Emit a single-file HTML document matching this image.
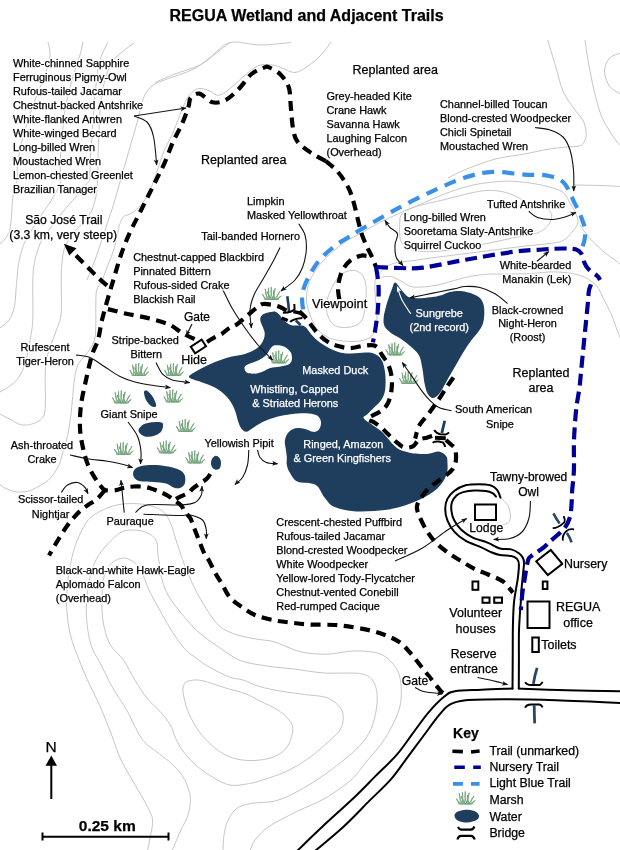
<!DOCTYPE html><html><head><meta charset="utf-8"><style>
html,body{margin:0;padding:0;background:#fff;width:620px;height:850px;overflow:hidden}
svg{display:block;will-change:transform}
text{font-family:"Liberation Sans",sans-serif;}
.h{paint-order:stroke;stroke:#fff;stroke-width:3px;stroke-linejoin:round}
</style></head><body>
<svg width="620" height="850" viewBox="0 0 620 850">
<defs>
<marker id="ah" viewBox="0 0 10 10" refX="9" refY="5" markerWidth="6" markerHeight="6" orient="auto-start-reverse" markerUnits="userSpaceOnUse"><path d="M0,1 L10,5 L0,9 L2.5,5Z" fill="#111"/></marker>
<marker id="ahw" viewBox="0 0 10 10" refX="9" refY="5" markerWidth="6" markerHeight="6" orient="auto-start-reverse" markerUnits="userSpaceOnUse"><path d="M0,1 L10,5 L0,9 L2.5,5Z" fill="#fff"/></marker>
<g id="marsh"><path d="M2.6,12.5 Q2.5,9.2 0.4,7.0 Q0.7,10.3 5.3,12.5 Z M4.2,12.5 Q4.8,6.9 3.2,1.8 Q2.7,7.4 6.8,12.5 Z M5.9,12.5 Q7.4,6.6 6.5,0.8 Q5.2,6.7 8.7,12.5 Z M7.5,12.5 Q7.4,8.1 5.2,4.5 Q5.4,8.9 10.2,12.5 Z M8.2,12.5 Q9.9,6.2 9.3,0.0 Q7.8,6.3 10.9,12.5 Z M9.8,12.5 Q12.7,7.1 13.2,1.3 Q10.5,6.7 12.5,12.5 Z M11.0,12.5 Q12.4,7.9 11.5,3.5 Q10.2,8.1 13.7,12.5 Z M12.2,12.5 Q16.1,8.9 18.0,4.3 Q14.2,7.9 14.8,12.5 Z M13.7,12.5 Q17.2,11.6 19.3,9.0 Q15.9,9.9 16.4,12.5 Z" fill="#cfe6cf" stroke="#72a27b" stroke-width="0.85" stroke-linejoin="round"/></g>
</defs>
<rect width="620" height="850" fill="#fff"/>
<g fill="none" stroke="#c6c6c6" stroke-width="1">
<path d="M48.0,42.0 C48.3,44.3 50.5,50.5 50.0,56.0 C49.5,61.5 47.5,67.7 45.0,75.0 C42.5,82.3 38.3,90.8 35.0,100.0 C31.7,109.2 27.8,120.0 25.0,130.0 C22.2,140.0 19.4,151.4 18.0,160.0 C16.6,168.6 17.5,176.7 16.9,181.8 C16.3,186.9 14.9,187.3 14.2,190.6 C13.4,193.8 12.8,197.2 12.4,201.3 C12.0,205.5 11.9,210.8 11.5,215.5 C11.1,220.2 10.8,225.8 9.8,229.7 C8.8,233.5 6.9,236.2 5.3,238.6 C3.7,241.0 0.9,243.1 0.0,244.0"/>
<path d="M83.0,42.0 C82.5,44.2 81.8,48.7 80.0,55.0 C78.2,61.3 74.5,70.8 72.0,80.0 C69.5,89.2 66.7,100.0 65.0,110.0 C63.3,120.0 62.8,130.8 62.0,140.0 C61.2,149.2 60.1,158.3 60.0,165.0 C59.9,171.7 61.7,175.7 61.2,180.0 C60.7,184.3 58.7,186.8 56.8,190.6 C54.9,194.4 52.4,198.9 49.7,203.1 C47.0,207.2 44.6,209.6 40.8,215.5 C36.9,221.4 29.7,233.0 26.6,238.6 C23.5,244.2 23.5,245.1 22.2,249.2 C20.9,253.3 19.5,258.4 18.6,263.4 C17.7,268.4 17.3,275.0 16.9,279.4 C16.5,283.8 16.4,285.3 16.0,290.0 C15.6,294.7 15.4,302.7 14.2,307.7 C13.0,312.7 11.3,316.8 8.9,320.2 C6.5,323.6 1.5,326.7 0.0,328.0"/>
<path d="M108.0,42.0 C106.7,45.0 102.0,52.8 100.0,60.0 C98.0,67.2 97.2,75.0 96.0,85.0 C94.8,95.0 93.8,109.2 93.0,120.0 C92.2,130.8 91.5,141.7 91.0,150.0 C90.5,158.3 90.2,165.0 90.0,170.0 C89.8,175.0 90.4,177.4 89.6,180.0 C88.8,182.6 87.1,182.9 85.2,185.3 C83.3,187.7 81.4,190.3 78.1,194.2 C74.8,198.0 69.8,203.4 65.6,208.4 C61.4,213.4 57.0,219.4 53.2,224.4 C49.4,229.4 45.1,234.5 42.6,238.6 C40.1,242.7 39.4,245.4 38.1,249.2 C36.8,253.0 35.5,256.6 34.6,261.6 C33.7,266.6 33.1,269.9 32.8,279.4 C32.5,288.9 33.2,308.3 32.8,318.4 C32.4,328.4 31.5,332.0 30.2,339.7 C28.9,347.4 26.9,358.0 24.8,364.5 C22.7,371.0 20.3,375.0 17.7,378.7 C15.0,382.4 11.8,384.5 8.9,386.7 C6.0,388.9 1.5,391.1 0.0,392.0"/>
<path d="M134.1,42.9 C132.2,44.4 126.1,48.6 122.4,51.8 C118.7,55.0 114.9,57.3 112.0,62.0 C109.1,66.7 106.8,73.7 105.0,80.0 C103.2,86.3 102.0,91.7 101.0,100.0 C100.0,108.3 99.5,120.0 99.0,130.0 C98.5,140.0 98.3,150.0 98.0,160.0 C97.7,170.0 98.0,181.7 97.0,190.0 C96.0,198.3 94.0,205.0 92.0,210.0 C90.0,215.0 88.3,215.8 85.0,220.0 C81.7,224.2 75.4,230.4 72.0,235.0 C68.6,239.6 66.5,243.0 64.8,247.4 C63.1,251.8 62.7,256.3 62.1,261.6 C61.5,266.9 61.4,270.8 61.2,279.4 C61.1,288.0 61.9,304.8 61.2,313.1 C60.5,321.4 58.4,324.0 56.8,329.0 C55.2,334.0 53.1,338.5 51.5,343.2 C49.9,347.9 48.0,352.4 47.0,357.4 C46.0,362.4 45.5,364.8 45.2,373.4 C44.9,382.0 45.9,401.2 45.2,408.9 C44.5,416.6 43.0,417.0 40.8,419.5 C38.6,422.0 35.1,423.1 31.9,424.0 C28.6,424.9 24.9,425.6 21.3,424.8 C17.8,424.1 14.2,421.3 10.6,419.5 C7.0,417.7 1.8,415.1 0.0,414.2"/>
<path d="M291.0,42.5 C285.8,42.9 270.2,45.0 260.0,45.0 C249.8,45.0 238.3,40.4 230.0,42.5 C221.7,44.6 216.2,53.1 210.0,57.6 C203.8,62.1 199.7,66.0 192.9,69.4 C186.1,72.8 175.8,75.8 169.4,78.2 C163.0,80.7 158.6,81.6 154.7,84.1 C150.8,86.5 148.1,89.5 145.9,92.9 C143.7,96.3 143.0,99.8 141.5,104.7 C140.0,109.6 138.8,116.0 137.1,122.4 C135.4,128.8 133.2,136.1 131.2,142.9 C129.2,149.8 127.3,156.6 125.3,163.5 C123.3,170.4 121.4,177.2 119.4,184.1 C117.4,191.0 115.5,198.3 113.5,204.7 C111.5,211.1 109.5,216.5 107.6,222.4 C105.6,228.3 103.8,234.1 101.8,240.0 C99.8,245.9 97.9,252.2 95.9,257.6 C93.9,263.0 91.5,268.7 90.0,272.4 C88.5,276.1 87.5,278.7 87.0,280.0"/>
<path d="M331.0,42.0 C329.3,44.2 324.8,51.0 321.0,55.0 C317.2,59.0 312.3,63.1 308.0,66.0 C303.7,68.9 299.3,72.2 295.0,72.5 C290.7,72.8 285.8,69.2 282.0,68.0 C278.2,66.8 277.0,65.1 272.5,65.0 C268.0,64.9 263.3,62.7 255.0,67.5 C246.7,72.3 230.0,90.1 222.5,94.0 C215.0,97.9 213.9,91.9 210.0,91.0 C206.1,90.1 202.1,87.9 198.8,88.5 C195.5,89.1 192.4,91.7 190.0,94.4 C187.6,97.1 186.1,100.5 184.1,104.7 C182.1,108.9 180.1,114.5 178.2,119.4 C176.2,124.3 174.6,129.2 172.4,134.1 C170.2,139.0 167.0,144.4 165.0,148.8 C163.0,153.2 162.3,155.7 160.6,160.6 C158.9,165.5 156.7,172.8 154.7,178.2 C152.7,183.6 151.0,188.5 148.8,192.9 C146.6,197.3 144.4,201.3 141.5,204.7 C138.6,208.1 134.1,211.5 131.2,213.5 C128.2,215.5 125.8,214.5 123.8,216.5 C121.8,218.5 120.6,221.4 119.4,225.3 C118.2,229.2 117.7,235.1 116.5,240.0 C115.3,244.9 113.8,249.8 112.1,254.7 C110.4,259.6 107.9,265.0 106.2,269.4 C104.5,273.8 103.4,277.8 101.8,281.2 C100.2,284.6 97.7,286.2 96.7,290.0 C95.7,293.8 96.0,298.3 95.8,304.2 C95.6,310.1 96.1,319.3 95.8,325.5 C95.5,331.7 95.8,336.5 94.0,341.5 C92.2,346.5 87.9,351.8 85.2,355.6 C82.5,359.4 79.9,360.6 78.1,364.5 C76.3,368.4 75.4,373.4 74.5,378.7 C73.6,384.0 73.3,390.6 72.7,396.5 C72.1,402.4 71.7,408.3 71.0,414.2 C70.3,420.1 69.0,427.7 68.3,432.0 C67.5,436.3 67.5,436.2 66.5,440.0 C65.5,443.8 63.3,450.7 62.0,455.0 C60.7,459.3 60.7,461.7 58.7,465.6 C56.8,469.5 53.1,475.1 50.3,478.2 C47.5,481.3 45.4,482.4 41.9,484.5 C38.4,486.6 33.6,489.6 29.4,490.8 C25.2,492.0 20.6,492.2 16.8,491.9 C13.0,491.5 9.1,489.9 6.3,488.7 C3.5,487.5 1.1,485.2 0.0,484.5"/>
<path d="M155.0,82.5 C158.3,81.1 167.5,76.9 175.0,74.0 C182.5,71.1 193.3,68.3 200.0,65.0 C206.7,61.7 210.0,57.8 215.0,54.0 C220.0,50.2 227.5,44.4 230.0,42.5"/>
<path d="M147.5,851.0 C147.9,848.8 149.2,843.2 150.0,838.0 C150.8,832.8 153.1,825.4 152.6,820.0 C152.1,814.6 149.7,811.3 146.8,805.5 C143.9,799.7 139.6,793.0 135.2,785.2 C130.8,777.5 124.5,767.2 120.6,759.0 C116.7,750.8 115.3,744.5 111.9,735.8 C108.5,727.1 104.4,716.1 100.3,706.8 C96.2,697.5 91.0,687.9 87.5,680.0 C84.0,672.1 81.8,667.1 79.0,659.7 C76.2,652.3 72.6,643.6 70.6,635.5 C68.6,627.4 67.5,618.6 66.9,611.3 C66.3,604.0 66.5,598.8 66.9,591.9 C67.3,585.0 68.4,576.7 69.4,570.2 C70.4,563.8 71.4,558.9 73.0,553.2 C74.6,547.6 76.4,541.9 79.0,536.3 C81.6,530.7 84.7,523.8 88.7,519.4 C92.7,515.0 98.4,512.1 103.2,509.7 C108.0,507.3 112.5,505.8 117.7,504.8 C123.0,503.8 129.0,503.4 134.7,503.6 C140.3,503.8 146.8,504.6 151.6,506.0 C156.4,507.4 160.5,509.1 163.7,512.1 C166.9,515.1 168.9,519.6 171.0,524.2 C173.1,528.9 174.3,534.9 176.0,540.0 C177.7,545.1 179.4,550.4 181.0,555.0 C182.6,559.6 183.0,561.2 185.6,567.4 C188.2,573.6 191.6,583.0 196.6,592.1 C201.6,601.2 209.9,615.4 215.8,622.3 C221.8,629.1 225.9,630.5 232.3,633.2 C238.7,635.9 247.3,637.3 254.2,638.7 C261.0,640.1 267.9,640.1 273.4,641.5 C278.9,642.9 282.1,645.2 287.1,647.0 C292.1,648.8 296.8,651.2 303.5,652.4 C310.2,653.6 318.9,654.4 327.1,654.2 C335.3,654.0 344.8,651.3 352.9,651.0 C361.0,650.7 369.6,651.3 375.5,652.6 C381.4,653.9 384.6,655.8 388.4,659.0 C392.2,662.2 396.0,667.0 398.1,671.9 C400.2,676.8 401.0,682.2 401.3,688.1 C401.6,694.0 401.3,701.0 399.7,707.4 C398.1,713.8 394.6,720.9 391.6,726.8 C388.6,732.7 386.2,737.0 381.9,742.9 C377.6,748.8 370.6,756.4 365.8,762.3 C361.0,768.2 358.0,773.4 352.9,778.4 C347.8,783.4 340.5,788.2 335.0,792.0 C329.5,795.8 325.8,798.0 320.0,801.0 C314.2,804.0 305.8,807.2 300.0,810.0 C294.2,812.8 290.4,814.6 285.0,817.5 C279.6,820.4 272.5,823.8 267.5,827.5 C262.5,831.2 257.9,836.1 255.0,840.0 C252.1,843.9 250.8,849.2 250.0,851.0"/>
<path d="M172.0,851.0 C173.3,847.8 177.7,837.2 180.0,832.0 C182.3,826.8 184.5,823.5 186.0,820.0 C187.5,816.5 188.2,815.2 188.9,811.3 C189.6,807.4 191.0,802.1 190.3,796.8 C189.6,791.5 187.4,784.7 184.5,779.4 C181.6,774.1 177.2,769.3 172.9,764.9 C168.6,760.5 163.2,757.1 158.4,753.2 C153.6,749.3 147.8,746.0 143.9,741.6 C140.0,737.2 138.1,732.4 135.2,727.1 C132.3,721.8 130.4,716.5 126.5,709.7 C122.6,702.9 116.3,694.2 111.9,686.5 C107.5,678.8 103.5,669.3 100.3,663.2 C97.1,657.1 94.9,654.6 93.0,650.0 C91.1,645.4 89.8,641.5 88.7,635.5 C87.6,629.5 86.5,621.0 86.3,613.7 C86.1,606.4 86.7,598.8 87.5,591.9 C88.3,585.0 89.3,578.6 91.1,572.6 C92.9,566.6 95.2,560.9 98.4,555.6 C101.6,550.4 106.5,545.1 110.5,541.1 C114.5,537.1 118.2,533.3 122.6,531.5 C127.0,529.7 132.7,529.8 137.1,530.2 C141.5,530.6 146.0,532.1 149.2,533.9 C152.4,535.7 155.0,537.5 156.5,541.1 C158.0,544.7 157.3,550.8 158.0,555.6 C158.7,560.4 159.8,565.8 160.5,570.0 C161.2,574.2 161.1,576.9 162.3,581.1 C163.6,585.3 165.5,590.4 168.0,595.0 C170.5,599.6 172.6,602.6 177.4,608.5 C182.2,614.4 189.8,624.1 196.6,630.5 C203.4,636.9 211.2,641.9 218.5,646.9 C225.8,651.9 232.3,657.4 240.5,660.6 C248.7,663.8 259.2,664.7 267.9,666.1 C276.6,667.5 283.3,667.8 292.6,668.9 C301.9,670.0 312.8,672.2 323.9,673.0 C335.0,673.8 351.3,672.3 359.4,673.5 C367.5,674.7 369.4,676.5 372.3,680.0 C375.2,683.5 376.6,688.9 377.1,694.5 C377.6,700.1 376.9,707.4 375.5,713.9 C374.1,720.4 372.2,727.3 369.0,733.2 C365.8,739.1 361.5,744.0 356.1,749.4 C350.7,754.8 343.8,760.1 336.8,765.5 C329.8,770.9 321.7,776.8 314.2,781.6 C306.7,786.4 298.1,791.3 291.6,794.5 C285.1,797.7 280.3,799.6 275.0,801.0 C269.7,802.4 264.4,802.1 260.0,802.6 C255.6,803.1 252.3,803.0 248.4,804.0 C244.5,805.0 240.2,805.7 236.8,808.4 C233.4,811.1 230.2,815.6 228.1,820.0 C226.0,824.4 224.8,829.8 224.0,835.0 C223.2,840.2 223.2,848.3 223.0,851.0"/>
<path d="M125.0,558.1 C128.2,558.5 131.9,560.5 134.7,562.9 C137.5,565.3 139.9,569.0 141.9,572.6 C143.9,576.2 145.5,581.5 146.8,584.7 C148.2,588.0 148.1,588.4 150.0,592.1 C151.9,595.8 155.2,602.0 158.0,607.0 C160.8,612.0 163.7,617.5 166.5,622.3 C169.3,627.1 171.8,631.4 175.0,636.0 C178.2,640.6 182.1,646.0 185.6,649.7 C189.1,653.4 192.3,655.3 196.0,658.0 C199.7,660.7 202.0,662.9 207.6,666.1 C213.2,669.3 223.6,674.8 229.5,677.1 C235.4,679.4 238.2,678.4 243.2,680.0 C248.2,681.6 252.9,684.6 259.4,686.5 C265.8,688.4 274.4,690.0 281.9,691.3 C289.4,692.6 297.0,693.4 304.5,694.5 C312.0,695.6 321.2,695.6 327.1,697.7 C333.0,699.9 337.3,704.2 340.0,707.4 C342.7,710.6 343.2,713.3 343.2,717.1 C343.2,720.9 342.7,725.7 340.0,730.0 C337.3,734.3 332.5,738.1 327.1,742.9 C321.7,747.7 314.7,754.2 307.7,759.0 C300.7,763.8 292.7,768.4 285.2,771.9 C277.7,775.4 268.7,778.0 262.6,780.0 C256.5,782.0 253.7,782.8 248.4,783.7 C243.1,784.6 236.3,785.9 231.0,785.2 C225.7,784.5 221.8,782.3 216.5,779.4 C211.2,776.5 204.3,772.2 199.0,767.8 C193.7,763.4 188.4,758.1 184.5,753.2 C180.6,748.4 178.2,743.5 175.8,738.7 C173.4,733.9 172.9,729.0 170.0,724.2 C167.1,719.4 162.3,714.1 158.4,709.7 C154.5,705.4 150.7,703.0 146.8,698.1 C142.9,693.2 139.1,686.9 135.2,680.6 C131.3,674.3 127.7,666.2 123.6,660.3 C119.5,654.4 113.7,650.6 110.5,645.2 C107.3,639.9 105.8,633.9 104.4,628.2 C103.0,622.6 102.4,616.5 102.0,611.3 C101.6,606.1 101.8,602.0 102.0,596.8 C102.2,591.5 102.2,584.6 103.2,579.8 C104.2,574.9 106.1,570.9 108.1,567.7 C110.1,564.5 112.5,562.1 115.3,560.5 C118.1,558.9 121.8,557.7 125.0,558.1Z"/>
<path d="M184.5,683.6 C185.7,681.7 187.4,681.1 190.3,680.6 C193.2,680.1 196.2,679.4 202.0,680.6 C207.8,681.8 217.9,685.7 225.2,687.9 C232.4,690.1 239.7,691.5 245.5,693.7 C251.3,695.9 254.5,698.2 260.0,701.0 C265.5,703.8 273.4,706.9 278.7,710.6 C284.0,714.4 289.5,719.2 291.6,723.5 C293.8,727.8 292.7,732.2 291.6,736.5 C290.5,740.8 288.4,745.9 285.2,749.4 C282.0,752.9 277.5,755.5 272.3,757.4 C267.1,759.2 260.1,760.2 254.2,760.5 C248.3,760.8 242.1,760.2 236.8,759.0 C231.5,757.8 227.1,756.1 222.3,753.2 C217.5,750.3 212.2,746.0 207.8,741.6 C203.4,737.2 199.5,732.4 196.1,727.1 C192.7,721.8 189.6,715.5 187.4,709.7 C185.2,703.9 183.6,696.6 183.1,692.3 C182.6,687.9 183.3,685.5 184.5,683.6Z"/>
<path d="M396.0,262.7 C400.0,261.8 404.0,261.8 410.8,260.9 C417.6,260.0 427.5,258.4 436.8,257.2 C446.1,256.0 456.5,254.8 466.4,253.5 C476.3,252.2 486.2,250.9 496.1,249.7 C506.0,248.4 517.4,247.0 525.8,246.0 C534.2,245.0 540.3,244.8 546.5,243.9 C552.7,243.0 558.6,242.8 563.0,240.6 C567.4,238.4 570.5,233.9 573.0,230.8 C575.5,227.7 577.7,225.1 578.0,222.0 C578.3,218.9 576.3,215.2 575.0,212.0 C573.7,208.8 572.0,206.3 570.0,203.0 C568.0,199.7 566.6,195.0 562.9,192.3 C559.2,189.6 553.6,188.2 548.0,186.7 C542.4,185.1 536.3,183.9 529.5,183.0 C522.7,182.1 514.6,181.1 507.2,181.1 C499.8,181.1 491.8,182.1 485.0,183.0 C478.2,183.9 473.2,184.8 466.4,186.7 C459.6,188.5 452.2,191.0 444.2,194.1 C436.2,197.2 425.6,202.0 418.2,205.2 C410.8,208.3 406.5,210.1 400.0,213.0 C393.5,215.9 385.8,219.3 379.4,222.6 C372.9,225.9 367.3,229.5 361.3,232.9 C355.3,236.3 349.2,238.9 343.2,243.2 C337.2,247.5 329.9,254.0 325.2,258.7 C320.5,263.4 317.6,267.3 314.8,271.6 C312.0,275.9 309.8,279.8 308.4,284.5 C307.0,289.2 306.4,295.4 306.5,300.0 C306.6,304.6 307.9,308.3 309.0,312.0 C310.1,315.7 311.4,318.9 313.0,322.0 C314.6,325.1 315.8,327.9 318.7,330.6 C321.6,333.3 325.5,336.6 330.3,338.4 C335.1,340.2 342.2,341.0 347.7,341.3 C353.2,341.6 359.0,341.4 363.2,340.3 C367.4,339.2 370.6,337.7 372.9,334.5 C375.2,331.3 376.3,326.2 376.8,321.0 C377.3,315.8 376.1,309.0 375.8,303.5 C375.5,298.0 374.8,292.3 374.8,288.1 C374.8,283.9 374.8,281.1 375.8,278.4 C376.8,275.7 378.7,274.0 380.6,272.0 C382.5,270.0 384.4,268.1 387.0,266.5 C389.6,264.9 392.0,263.6 396.0,262.7Z"/>
<path d="M382.0,277.0 C383.4,276.9 387.9,276.2 390.3,276.4 C392.7,276.6 393.9,277.4 396.1,278.4 C398.3,279.4 400.9,281.2 403.5,282.6 C406.1,284.0 408.5,286.1 412.0,286.8 C415.5,287.5 420.0,287.2 424.5,286.8 C429.0,286.4 434.3,285.8 439.2,284.7 C444.1,283.6 448.7,281.9 453.9,280.5 C459.1,279.1 465.0,277.4 470.6,276.3 C476.2,275.2 482.5,274.6 487.4,274.2 C492.3,273.8 492.9,274.1 500.0,274.0 C507.1,273.9 520.9,274.0 530.0,273.6 C539.1,273.2 546.5,271.6 554.7,271.9 C562.9,272.2 572.5,273.0 579.4,275.2 C586.3,277.4 591.8,281.0 595.9,285.1 C600.0,289.2 601.4,294.9 604.1,300.0 C606.8,305.1 609.9,311.0 612.0,316.0 C614.1,321.0 615.5,326.0 617.0,330.0 C618.5,334.0 620.3,338.3 621.0,340.0"/>
<path d="M336.1,280.3 C338.7,276.4 340.7,274.2 343.9,272.6 C347.1,271.0 352.3,270.0 355.5,270.6 C358.7,271.2 361.4,273.5 363.2,276.4 C365.0,279.3 365.8,282.9 366.1,288.1 C366.4,293.3 366.0,301.9 365.2,307.4 C364.4,312.9 363.6,317.8 361.3,321.0 C359.0,324.2 355.5,325.8 351.6,326.8 C347.7,327.8 341.7,327.8 338.1,326.8 C334.6,325.8 332.2,323.9 330.3,321.0 C328.4,318.1 326.7,313.6 326.4,309.4 C326.1,305.2 326.8,300.6 328.4,295.8 C330.0,291.0 333.5,284.2 336.1,280.3Z"/>
<path d="M401.5,214.5 C404.0,211.4 407.4,209.6 414.5,207.1 C421.6,204.6 434.3,202.2 444.2,199.7 C454.1,197.2 465.9,193.9 473.9,192.3 C481.9,190.8 486.2,190.1 492.4,190.4 C498.6,190.7 504.8,191.9 511.0,194.1 C517.2,196.3 524.0,201.2 529.5,203.4 C535.0,205.6 540.6,205.2 544.3,207.1 C548.0,208.9 551.1,211.4 551.7,214.5 C552.3,217.6 550.5,222.5 548.0,225.6 C545.5,228.7 541.8,231.2 536.9,233.1 C532.0,235.0 525.8,235.3 518.4,236.8 C511.0,238.3 501.7,240.5 492.4,242.3 C483.1,244.2 472.6,246.4 462.7,247.9 C452.8,249.4 441.8,251.3 433.1,251.6 C424.5,251.9 416.1,251.2 410.8,249.7 C405.5,248.1 403.4,245.1 401.5,242.3 C399.6,239.5 400.0,235.9 399.7,233.1 C399.4,230.3 399.4,228.7 399.7,225.6 C400.0,222.5 399.0,217.6 401.5,214.5Z"/>
<path d="M574.0,185.0 C578.3,185.1 592.2,185.2 600.0,185.5 C607.8,185.8 617.5,186.3 621.0,186.5"/>
<path d="M580.0,225.0 C581.4,226.9 584.5,232.2 588.2,236.5 C591.9,240.8 597.7,246.5 602.4,250.6 C607.1,254.7 613.4,258.8 616.5,261.2 C619.6,263.6 620.2,264.4 621.0,265.0"/>
<path d="M500.5,497.7 C501.4,498.6 504.7,501.5 506.0,503.0 C507.3,504.5 507.6,504.7 508.4,506.8 C509.2,508.9 510.6,513.2 510.6,515.8 C510.6,518.4 509.7,521.1 508.4,522.6 C507.1,524.1 503.6,524.4 502.7,524.8"/>
<path d="M547.7,40.0 C549.0,44.3 552.9,57.2 555.5,65.8 C558.1,74.4 560.0,84.2 563.2,91.6 C566.5,99.0 571.8,105.3 575.0,110.0 C578.2,114.7 580.9,116.5 582.7,120.0 C584.6,123.5 585.7,127.9 586.1,131.3 C586.5,134.7 586.1,137.9 585.0,140.3 C583.9,142.8 582.5,144.9 579.3,146.0 C576.1,147.1 571.1,146.5 565.8,147.1 C560.5,147.7 554.5,148.2 547.7,149.3 C540.9,150.4 533.4,152.4 525.1,153.9 C516.8,155.4 505.5,156.7 498.0,158.4 C490.5,160.1 486.0,161.9 480.0,164.0 C474.0,166.1 467.3,168.7 462.0,171.0 C456.7,173.3 450.3,176.8 448.0,178.0"/>
<path d="M585.0,40.0 C585.5,43.3 586.5,51.7 588.0,60.0 C589.5,68.3 591.8,80.8 594.0,90.0 C596.2,99.2 598.5,108.3 601.0,115.0 C603.5,121.7 606.3,125.5 609.0,130.0 C611.7,134.5 615.0,139.3 617.0,142.0 C619.0,144.7 620.3,145.3 621.0,146.0"/>
<path d="M621.0,52.9 C619.1,53.8 612.5,55.0 609.7,58.0 C607.0,61.0 604.5,66.2 604.5,71.0 C604.5,75.8 607.0,82.6 609.7,86.5 C612.5,90.4 619.1,92.9 621.0,94.2"/>
</g>
<g fill="none" stroke="#000" stroke-width="2" stroke-linejoin="round" stroke-linecap="round">
<path d="M297.0,851.0 C301.2,847.0 312.5,835.9 322.0,827.0 C331.5,818.1 345.0,806.1 353.9,797.7 C362.8,789.3 368.1,783.5 375.2,776.4 C382.3,769.3 390.2,762.3 396.4,755.2 C402.6,748.1 407.1,741.0 412.4,733.9 C417.7,726.8 423.1,718.8 428.4,712.6 C433.7,706.4 439.9,700.2 444.3,696.6 C448.7,693.0 448.8,692.4 455.0,691.3 C461.2,690.1 472.0,690.2 481.6,689.7 C491.2,689.2 507.4,688.8 512.5,688.6"/>
<path d="M518.8,688.6 C526.8,688.9 549.7,689.8 566.7,690.2 C583.7,690.7 612.0,691.1 621.0,691.3"/>
<path d="M315.0,851.0 C319.7,847.0 334.1,835.4 343.2,827.0 C352.3,818.6 361.8,808.4 369.8,800.4 C377.8,792.4 384.9,786.2 391.1,779.1 C397.3,772.0 401.8,764.9 407.1,757.8 C412.4,750.7 417.7,743.6 423.0,736.5 C428.3,729.4 434.6,720.5 439.0,715.2 C443.4,709.9 445.3,707.1 449.7,704.6 C454.1,702.1 456.7,701.2 465.6,700.3 C474.5,699.4 487.8,699.3 502.9,699.3 C518.0,699.3 536.4,699.7 556.1,700.3 C575.8,700.9 610.2,702.5 621.0,703.0"/>
<path d="M500.5,497.7 C499.9,496.4 498.8,491.9 497.1,489.8 C495.4,487.7 493.3,486.2 490.3,485.3 C487.3,484.4 483.1,484.2 479.0,484.2 C474.9,484.2 469.6,484.2 465.5,485.3 C461.4,486.4 457.2,488.7 454.2,491.0 C451.2,493.3 448.9,495.9 447.4,498.9 C445.9,501.9 445.2,505.4 445.2,509.0 C445.2,512.6 445.9,516.5 447.4,520.3 C448.9,524.1 451.2,528.2 454.2,531.6 C457.2,535.0 461.0,538.0 465.5,540.6 C470.0,543.2 476.9,545.4 481.3,547.4 C485.7,549.4 488.9,551.2 492.0,552.5 C495.1,553.8 496.8,554.5 500.0,555.1 C503.2,555.7 508.5,555.4 511.3,556.0 C514.1,556.6 515.7,557.5 517.0,558.9 C518.3,560.3 518.8,561.4 518.9,564.5 C519.0,567.6 518.4,573.6 517.9,577.7 C517.4,581.8 516.6,585.3 516.0,589.1 C515.4,592.9 514.7,596.0 514.2,600.4 C513.7,604.8 513.4,609.9 513.2,615.5 C513.0,621.1 512.9,626.9 512.8,634.3 C512.7,641.7 512.8,651.0 512.7,660.0 C512.7,669.0 512.5,683.8 512.5,688.6"/>
<path d="M496.0,496.6 C495.4,496.0 494.3,494.1 492.6,493.2 C490.9,492.3 488.8,491.4 485.8,491.0 C482.8,490.6 478.3,490.3 474.5,490.5 C470.7,490.7 466.2,491.3 463.2,492.1 C460.2,492.9 458.4,493.8 456.5,495.5 C454.6,497.2 452.7,499.7 451.9,502.3 C451.1,504.9 451.1,508.3 451.5,511.3 C451.9,514.3 452.6,517.3 454.2,520.3 C455.8,523.3 458.0,526.6 461.0,529.4 C464.0,532.2 467.8,535.0 472.3,537.3 C476.8,539.5 483.5,541.0 488.1,542.9 C492.7,544.8 496.1,547.4 500.0,548.5 C503.9,549.6 508.2,548.6 511.3,549.4 C514.5,550.2 516.9,551.8 518.9,553.2 C520.9,554.6 522.1,556.4 523.0,558.0 C523.9,559.6 523.9,561.3 524.0,563.0 C524.1,564.7 524.0,564.3 523.6,568.3 C523.2,572.3 522.2,581.5 521.7,587.2 C521.2,592.9 521.1,597.6 520.8,602.3 C520.5,607.0 520.1,610.2 519.8,615.5 C519.5,620.8 519.0,626.9 518.9,634.3 C518.8,641.7 518.9,651.0 518.9,660.0 C518.9,669.0 518.8,683.8 518.8,688.6"/>
</g>
<g fill="#1f3d5c">
<path d="M189.0,377.0 C188.5,375.0 194.7,372.3 198.1,370.2 C201.5,368.1 205.7,366.2 209.4,364.5 C213.2,362.8 216.8,361.3 220.6,360.0 C224.3,358.7 228.1,357.5 231.9,356.6 C235.7,355.7 239.8,355.3 243.2,354.4 C246.6,353.5 249.7,352.3 252.3,351.0 C254.9,349.7 257.1,348.4 259.0,346.5 C260.9,344.6 262.6,342.0 263.5,339.7 C264.4,337.4 264.9,335.2 264.7,332.9 C264.5,330.6 263.1,328.4 262.4,326.1 C261.6,323.9 260.2,321.3 260.2,319.4 C260.2,317.5 261.1,315.9 262.4,314.8 C263.7,313.7 265.9,313.2 268.0,312.6 C270.1,312.1 272.9,311.1 274.8,311.5 C276.7,311.9 277.9,313.3 279.4,314.8 C280.9,316.3 282.0,318.8 283.9,320.5 C285.8,322.2 288.4,324.2 290.6,325.0 C292.9,325.8 295.5,325.4 297.4,325.5 C299.3,325.6 300.6,325.2 302.0,325.5 C303.4,325.8 304.5,326.1 306.0,327.5 C307.5,328.9 309.0,331.8 311.0,334.0 C313.0,336.2 315.2,338.8 318.0,341.0 C320.8,343.2 324.3,345.6 328.0,347.5 C331.7,349.4 336.0,351.5 340.0,352.5 C344.0,353.5 347.8,353.5 352.0,353.5 C356.2,353.5 361.7,352.6 365.0,352.5 C368.3,352.4 369.8,352.4 372.0,353.0 C374.2,353.6 376.5,354.6 378.2,356.0 C379.9,357.4 381.3,358.9 382.4,361.5 C383.5,364.1 384.5,368.4 385.0,371.9 C385.5,375.4 385.7,378.9 385.6,382.4 C385.5,385.9 385.4,389.8 384.5,392.9 C383.6,396.0 382.1,398.9 380.3,401.3 C378.6,403.8 376.1,405.5 374.0,407.6 C371.9,409.7 369.4,412.3 367.7,413.9 C365.9,415.5 363.9,415.9 363.5,417.0 C363.1,418.1 364.2,419.0 365.6,420.2 C367.0,421.4 369.4,422.7 371.9,424.4 C374.3,426.1 377.9,428.5 380.3,430.6 C382.8,432.7 384.5,434.6 386.6,436.9 C388.7,439.2 390.8,442.2 392.9,444.3 C395.0,446.4 396.4,448.1 399.2,449.5 C402.0,450.9 406.5,452.0 409.7,452.7 C412.9,453.4 415.0,453.5 418.1,453.7 C421.2,453.9 425.1,454.0 428.6,453.7 C432.1,453.4 436.1,451.2 439.0,451.6 C441.9,452.0 444.6,454.4 446.0,456.0 C447.4,457.6 447.3,458.2 447.4,461.3 C447.5,464.4 448.2,470.3 446.5,474.8 C444.8,479.3 441.9,484.2 437.4,488.4 C432.9,492.5 426.2,496.5 419.4,499.7 C412.6,502.9 404.3,505.9 396.8,507.8 C389.3,509.7 381.7,510.5 374.2,511.0 C366.7,511.5 358.4,511.8 351.6,511.0 C344.8,510.2 338.1,508.8 333.6,506.5 C329.1,504.2 327.5,501.0 324.5,497.4 C321.5,493.8 320.0,487.4 315.5,484.8 C311.0,482.2 301.7,483.7 297.4,481.6 C293.1,479.5 291.5,475.2 289.7,472.4 C287.9,469.6 287.3,467.3 286.8,464.7 C286.3,462.1 287.0,459.5 286.8,456.9 C286.6,454.3 286.1,451.8 285.8,449.2 C285.5,446.6 284.6,443.8 284.8,441.4 C285.0,439.0 285.7,436.6 286.8,434.7 C287.9,432.8 289.8,430.9 291.6,429.8 C293.4,428.7 295.1,428.0 297.4,427.9 C299.7,427.8 302.6,428.2 305.2,428.9 C307.8,429.5 310.8,431.5 312.9,431.8 C315.0,432.1 316.4,431.8 317.7,430.8 C319.0,429.8 320.1,427.8 320.6,426.0 C321.1,424.2 321.2,422.0 320.6,420.2 C320.0,418.4 318.7,416.4 316.8,415.3 C314.9,414.2 312.2,413.7 309.0,413.4 C305.8,413.1 301.6,413.1 297.4,413.4 C293.2,413.7 288.1,414.5 283.9,415.3 C279.7,416.1 275.9,417.1 272.3,418.2 C268.8,419.3 265.8,420.5 262.6,422.1 C259.4,423.7 255.7,426.3 252.9,427.9 C250.2,429.5 248.1,431.8 246.1,431.8 C244.1,431.8 242.3,429.8 241.0,428.0 C239.7,426.2 238.9,423.7 238.0,421.0 C237.1,418.3 236.5,414.8 235.5,412.0 C234.5,409.2 233.6,406.7 232.0,404.0 C230.4,401.3 228.8,398.8 226.0,396.0 C223.2,393.2 219.2,389.8 215.0,387.5 C210.8,385.2 205.3,383.8 201.0,382.0 C196.7,380.2 189.5,379.0 189.0,377.0Z"/>
<path d="M395.2,282.6 C396.8,282.8 399.2,287.4 401.5,289.9 C403.8,292.3 406.0,295.9 408.8,297.3 C411.6,298.7 414.5,298.3 418.2,298.3 C421.9,298.3 426.9,297.8 430.8,297.3 C434.7,296.8 438.2,296.1 441.3,295.2 C444.4,294.3 446.6,292.7 449.7,292.0 C452.8,291.3 456.7,290.8 460.2,291.0 C463.7,291.2 467.5,292.1 470.6,293.1 C473.7,294.2 476.9,295.6 479.0,297.3 C481.1,299.0 482.3,301.1 483.2,303.5 C484.1,305.9 484.3,308.8 484.3,311.9 C484.3,315.0 484.1,319.2 483.2,322.4 C482.3,325.5 481.1,327.6 479.0,330.8 C476.9,334.0 473.4,337.5 470.6,341.3 C467.8,345.1 465.1,349.3 462.3,353.9 C459.5,358.4 456.7,363.7 453.9,368.6 C451.1,373.5 447.9,379.0 445.5,383.2 C443.1,387.4 441.3,391.2 439.2,393.7 C437.1,396.1 434.8,397.9 432.9,397.9 C431.0,397.9 429.1,396.1 427.7,393.7 C426.3,391.2 425.4,387.4 424.5,383.2 C423.6,379.0 423.3,373.1 422.4,368.6 C421.5,364.1 421.1,359.5 419.3,356.0 C417.6,352.5 414.9,350.4 411.9,347.6 C408.9,344.8 405.0,341.6 401.5,339.2 C398.0,336.8 393.8,335.0 391.0,332.9 C388.2,330.8 385.9,329.1 384.7,326.6 C383.5,324.2 383.4,321.4 383.6,318.2 C383.8,315.0 384.8,311.2 385.7,307.7 C386.6,304.2 387.8,300.4 388.9,297.3 C389.9,294.2 390.9,291.3 392.0,288.9 C393.1,286.4 393.6,282.4 395.2,282.6Z"/>
<path d="M133.2,472.3 C132.8,474.1 133.3,476.6 134.5,478.1 C135.7,479.6 137.2,480.7 140.3,481.3 C143.4,481.9 148.9,481.5 153.2,481.9 C157.5,482.3 162.6,482.5 166.1,483.5 C169.6,484.5 171.8,487.0 174.2,487.7 C176.6,488.4 178.8,488.4 180.6,487.7 C182.4,487.0 184.1,485.5 184.8,483.5 C185.5,481.5 185.5,477.6 184.8,475.5 C184.1,473.4 182.6,472.0 180.6,470.6 C178.6,469.2 176.1,468.3 172.6,467.4 C169.1,466.5 164.0,465.6 159.7,465.2 C155.4,464.8 150.6,464.8 146.8,465.2 C143.0,465.6 139.4,466.2 137.1,467.4 C134.8,468.6 133.6,470.5 133.2,472.3Z"/>
<path d="M138.5,431.0 C138.1,429.1 140.6,426.4 142.5,425.0 C144.4,423.6 147.2,423.0 150.0,422.5 C152.8,422.0 156.8,421.8 159.0,422.0 C161.2,422.2 162.6,422.5 163.0,424.0 C163.4,425.5 162.8,429.1 161.5,431.0 C160.2,432.9 157.8,434.6 155.0,435.5 C152.2,436.4 147.8,437.2 145.0,436.5 C142.2,435.8 138.9,432.9 138.5,431.0Z"/>
<path d="M144.0,392.0 C144.2,390.5 146.1,390.2 147.5,391.0 C148.9,391.8 151.1,394.3 152.5,396.5 C153.9,398.7 155.6,402.2 156.0,404.0 C156.4,405.8 155.9,406.8 155.0,407.0 C154.1,407.2 152.0,406.7 150.5,405.5 C149.0,404.3 147.1,402.2 146.0,400.0 C144.9,397.8 143.8,393.5 144.0,392.0Z"/>
<path d="M215.5,455.8 C216.8,455.5 218.6,456.8 219.5,458.0 C220.4,459.2 221.0,461.2 221.0,463.0 C221.0,464.8 220.5,467.4 219.5,468.5 C218.5,469.6 216.3,469.9 215.0,469.5 C213.7,469.1 212.1,467.6 211.5,466.0 C210.9,464.4 210.8,461.7 211.5,460.0 C212.2,458.3 214.2,456.1 215.5,455.8Z"/>
</g>
<path d="M244.4,367.9 C244.4,366.5 245.6,365.6 247.7,364.5 C249.8,363.4 253.8,362.6 256.8,361.1 C259.8,359.6 263.6,357.6 265.8,355.5 C268.1,353.4 268.8,350.4 270.3,348.7 C271.8,347.0 272.5,345.7 274.8,345.3 C277.1,344.9 281.3,345.4 283.9,346.5 C286.5,347.6 289.3,349.9 290.6,352.1 C291.9,354.4 292.2,357.9 291.8,360.0 C291.4,362.1 290.5,363.4 288.4,364.5 C286.3,365.6 282.4,366.2 279.4,366.8 C276.4,367.4 272.9,367.1 270.3,367.9 C267.7,368.6 265.8,370.4 263.5,371.3 C261.2,372.2 259.4,373.2 256.8,373.5 C254.2,373.8 249.8,374.0 247.7,373.1 C245.6,372.2 244.4,369.3 244.4,367.9Z" fill="#fff"/>
<use href="#marsh" x="129.4" y="363.0"/>
<use href="#marsh" x="164.2" y="363.0"/>
<use href="#marsh" x="112.0" y="390.5"/>
<use href="#marsh" x="163.5" y="389.5"/>
<use href="#marsh" x="176.0" y="419.0"/>
<use href="#marsh" x="114.0" y="442.0"/>
<use href="#marsh" x="157.0" y="440.5"/>
<use href="#marsh" x="185.5" y="450.5"/>
<use href="#marsh" x="269.5" y="350.5"/>
<use href="#marsh" x="262.0" y="287.0"/>
<use href="#marsh" x="385.5" y="342.5"/>
<use href="#marsh" x="399.0" y="371.0"/>
<path d="M325.7,161.0 C323.1,159.6 315.1,155.7 310.4,152.4 C305.7,149.2 300.3,145.5 297.4,141.5 C294.5,137.5 294.1,134.2 293.0,128.4 C291.9,122.6 291.5,113.5 290.8,106.6 C290.1,99.7 290.5,92.4 288.7,87.0 C286.9,81.6 283.3,77.3 280.0,74.0 C276.7,70.7 271.6,68.5 269.0,67.4 C266.4,66.3 267.6,66.3 264.7,67.4 C261.8,68.5 255.9,70.4 251.6,74.0 C247.2,77.6 242.9,84.9 238.6,89.2 C234.2,93.5 229.9,97.9 225.5,100.1 C221.1,102.3 216.8,103.4 212.4,102.3 C208.1,101.2 203.0,94.3 199.4,93.6 C195.8,92.9 192.5,95.7 190.7,97.9 C188.9,100.1 189.9,102.2 188.5,106.6 C187.1,110.9 184.6,118.2 182.0,124.0 C179.4,129.8 176.1,135.0 173.2,141.5 C170.3,148.0 167.4,156.7 164.5,163.2 C161.6,169.7 158.7,174.9 155.8,180.7 C152.9,186.5 150.0,192.3 147.1,198.1 C144.2,203.9 141.3,209.7 138.4,215.5 C135.5,221.3 132.6,226.4 129.7,232.9 C126.8,239.4 123.5,247.4 121.0,254.7 C118.5,262.0 116.6,269.2 114.4,276.5 C112.2,283.8 110.0,291.1 107.9,298.3 C105.8,305.6 103.7,313.1 102.0,320.0 C100.3,326.9 99.7,334.2 98.0,340.0 C96.3,345.8 94.0,348.3 92.0,355.0 C90.0,361.7 87.8,371.7 86.0,380.0 C84.2,388.3 82.0,397.0 81.0,405.0 C80.0,413.0 79.7,420.8 80.0,428.0 C80.3,435.2 81.7,441.8 83.0,448.0 C84.3,454.2 86.0,460.0 88.0,465.0 C90.0,470.0 93.0,474.7 95.0,478.0 C97.0,481.3 98.3,483.0 100.0,485.0 C101.7,487.0 102.4,489.1 105.0,490.0 C107.6,490.9 112.6,490.6 115.8,490.2 C119.0,489.8 120.9,488.3 123.9,487.7 C126.9,487.1 130.5,486.6 134.0,486.5 C137.5,486.4 141.5,486.4 144.8,486.9 C148.1,487.4 151.0,488.6 153.7,489.5 C156.4,490.4 158.4,491.2 160.8,492.2 C163.2,493.2 165.7,494.4 167.9,495.7 C170.1,497.0 171.9,498.6 174.1,500.2 C176.3,501.8 179.4,503.6 181.2,505.5 C183.0,507.4 183.3,509.6 184.8,511.7 C186.3,513.8 188.7,515.7 190.1,517.9 C191.5,520.1 191.9,522.3 193.0,525.0 C194.1,527.7 195.3,531.0 196.5,534.0 C197.7,537.0 198.7,539.8 200.0,543.0 C201.3,546.2 202.9,550.6 204.3,553.4 C205.8,556.2 206.9,556.8 208.7,560.0 C210.5,563.2 212.7,568.3 215.0,572.5 C217.3,576.7 220.0,580.8 222.5,585.0 C225.0,589.2 226.7,593.8 230.0,597.5 C233.3,601.2 238.3,604.6 242.5,607.5 C246.7,610.4 250.0,612.9 255.0,615.0 C260.0,617.1 266.7,618.8 272.5,620.0 C278.3,621.2 283.8,621.8 290.0,622.5 C296.2,623.2 302.5,624.1 310.0,624.5 C317.5,624.9 327.5,624.5 335.0,625.0 C342.5,625.5 348.8,626.5 355.0,627.5 C361.2,628.5 367.1,629.6 372.5,631.0 C377.9,632.4 382.9,634.1 387.5,636.0 C392.1,637.9 396.2,639.8 400.0,642.5 C403.8,645.2 406.7,648.8 410.0,652.5 C413.3,656.2 416.7,660.8 420.0,665.0 C423.3,669.2 426.7,673.3 430.0,677.5 C433.3,681.7 437.5,687.1 440.0,690.0 C442.5,692.9 444.2,694.2 445.0,695.0" fill="none" stroke="#000" stroke-width="4.2" stroke-dasharray="10 6.5"/>
<path d="M105.0,490.0 C103.7,491.5 99.8,496.5 97.0,499.0 C94.2,501.5 90.8,503.0 88.0,505.0 C85.2,507.0 82.5,508.8 80.0,511.0 C77.5,513.2 75.2,516.0 73.0,518.5 C70.8,521.0 69.0,523.2 67.0,526.0 C65.0,528.8 63.0,531.8 61.0,535.0 C59.0,538.2 57.0,541.6 55.0,545.0 C53.0,548.4 50.0,553.8 49.0,555.5" fill="none" stroke="#000" stroke-width="4.2" stroke-dasharray="10 6.5"/>
<path d="M176.0,499.0 C176.7,498.6 178.2,497.6 180.3,496.6 C182.4,495.6 186.2,494.4 188.3,493.1 C190.4,491.8 190.8,490.2 192.7,488.6 C194.6,487.0 197.4,485.0 199.8,483.3 C202.2,481.6 205.0,480.6 207.0,478.5 C209.0,476.4 211.2,472.2 212.0,471.0" fill="none" stroke="#000" stroke-width="4.2" stroke-dasharray="10 6.5"/>
<path d="M107.0,285.5 C105.5,284.2 101.2,280.5 98.0,277.5 C94.8,274.5 91.3,270.8 88.0,267.5 C84.7,264.2 80.7,260.2 78.0,257.5 C75.3,254.8 73.0,252.5 72.0,251.5" fill="none" stroke="#000" stroke-width="4.2" stroke-dasharray="10 6.5"/>
<path d="M107.9,309.1 C110.8,309.8 118.8,312.0 125.3,313.5 C131.8,315.0 139.8,316.1 147.1,317.9 C154.4,319.7 163.0,321.9 168.9,324.4 C174.8,326.9 177.9,330.6 182.3,333.1 C186.7,335.6 193.0,338.4 195.2,339.5" fill="none" stroke="#000" stroke-width="4.2" stroke-dasharray="10 6.5"/>
<path d="M207.0,342.0 C208.1,341.3 211.2,339.2 213.7,337.9 C216.2,336.5 219.2,335.5 221.8,333.9 C224.4,332.3 226.4,329.8 229.0,328.2 C231.6,326.6 233.9,326.5 237.1,324.2 C240.3,321.9 245.0,317.3 248.4,314.5 C251.8,311.7 254.9,309.1 257.3,307.3 C259.7,305.6 260.5,304.4 262.9,304.0 C265.3,303.6 268.9,304.3 271.8,304.8 C274.7,305.3 277.5,306.0 280.0,307.0 C282.5,308.0 285.8,310.3 287.0,311.0" fill="none" stroke="#000" stroke-width="4.2" stroke-dasharray="10 6.5"/>
<path d="M325.7,161.0 C327.8,162.8 334.2,167.5 338.0,172.0 C341.8,176.5 345.9,183.0 348.5,188.0 C351.1,193.0 352.0,197.0 353.5,201.9 C355.0,206.8 356.1,212.2 357.4,217.4 C358.7,222.6 359.8,228.2 361.3,232.9 C362.8,237.6 364.8,241.9 366.5,245.8 C368.2,249.7 370.0,252.6 371.6,256.1 C373.2,259.6 375.3,265.2 376.0,267.0" fill="none" stroke="#000" stroke-width="4.2" stroke-dasharray="10 6.5"/>
<path d="M366.5,256.1 C365.6,256.0 363.9,254.9 361.3,255.6 C358.7,256.2 354.0,257.8 351.0,260.0 C348.0,262.2 345.1,265.8 343.2,269.0 C341.3,272.2 340.2,275.9 339.4,279.4 C338.5,282.8 338.1,286.3 338.1,289.7 C338.1,293.1 339.2,298.3 339.4,300.0" fill="none" stroke="#000" stroke-width="4.2" stroke-dasharray="10 6.5"/>
<path d="M299.4,311.3 C300.4,312.3 303.3,314.9 305.2,317.1 C307.1,319.4 308.8,321.9 311.0,324.8 C313.2,327.7 315.8,331.6 318.7,334.5 C321.6,337.4 325.2,340.4 328.4,342.3 C331.6,344.2 334.6,345.1 338.1,346.1 C341.7,347.1 345.8,348.1 349.7,348.1 C353.6,348.1 357.8,346.6 361.3,346.1 C364.9,345.6 368.4,345.1 371.0,345.2 C373.6,345.3 375.2,345.4 377.0,347.0 C378.8,348.6 380.2,352.2 382.0,355.0 C383.8,357.8 386.4,360.5 388.0,364.0 C389.6,367.5 390.9,371.7 391.5,376.0 C392.1,380.3 392.1,385.5 391.5,390.0 C390.9,394.5 389.8,399.5 388.0,403.0 C386.2,406.5 384.3,408.4 381.0,411.0 C377.7,413.6 369.2,416.6 368.0,418.5 C366.8,420.4 371.8,420.8 374.0,422.3 C376.2,423.8 379.1,425.6 381.4,427.5 C383.7,429.4 385.8,431.9 387.7,433.8 C389.6,435.7 391.0,437.2 392.9,439.0 C394.8,440.8 397.3,442.9 399.2,444.3 C401.1,445.7 402.1,447.0 404.4,447.4 C406.7,447.8 410.4,447.7 412.8,446.4 C415.2,445.1 416.7,441.1 419.0,439.7 C421.3,438.2 424.1,438.5 426.8,437.7 C429.5,436.9 433.6,435.4 435.0,435.0" fill="none" stroke="#000" stroke-width="4.2" stroke-dasharray="10 6.5"/>
<path d="M453.5,377.5 C452.4,379.0 449.6,382.8 447.1,386.5 C444.6,390.2 441.5,395.5 438.4,400.0 C435.3,404.5 431.9,409.1 428.7,413.5 C425.5,417.9 421.2,421.9 419.0,426.1 C416.8,430.3 415.8,436.6 415.2,438.7" fill="none" stroke="#000" stroke-width="4.2" stroke-dasharray="10 6.5"/>
<path d="M446.0,440.0 C446.8,440.8 449.4,443.0 451.0,444.5 C452.6,446.0 454.5,446.4 455.3,449.2 C456.1,451.9 456.2,457.8 455.8,461.0 C455.4,464.2 454.3,466.4 452.9,468.7 C451.4,470.9 449.9,472.2 447.1,474.5 C444.4,476.8 439.5,479.9 436.4,482.3 C433.2,484.7 430.9,485.9 428.2,488.7 C425.5,491.5 422.2,495.9 420.3,498.9 C418.4,501.9 417.1,504.0 416.9,506.8 C416.7,509.6 417.7,512.0 419.2,515.8 C420.7,519.6 423.4,525.1 426.0,529.4 C428.6,533.7 431.2,537.8 435.0,541.8 C438.8,545.8 444.2,549.9 448.5,553.1 C452.8,556.3 456.7,558.4 461.0,561.0 C465.3,563.6 470.0,566.6 474.5,568.9 C479.0,571.1 483.4,572.4 488.1,574.5 C492.8,576.6 498.6,578.3 502.7,581.3 C506.8,584.3 511.2,590.7 512.9,592.6" fill="none" stroke="#000" stroke-width="4.2" stroke-dasharray="10 6.5"/>
<path d="M376.0,267.0 C380.0,267.2 392.2,267.9 400.0,268.0 C407.8,268.1 412.1,269.1 423.0,267.7 C433.9,266.3 450.5,262.3 465.6,259.7 C480.7,257.1 500.7,253.5 513.5,251.8 C526.3,250.1 534.0,250.1 542.3,249.5 C550.6,248.9 557.9,248.5 563.5,248.5 C569.1,248.5 573.2,248.6 576.2,249.5 C579.2,250.4 580.1,251.5 581.5,253.8 C582.9,256.1 583.5,260.7 584.7,263.3 C585.9,265.9 586.8,267.5 588.9,269.6 C591.0,271.7 595.5,274.3 597.4,276.0 C599.2,277.7 599.6,279.3 600.0,280.0" fill="none" stroke="#000099" stroke-width="4.2" stroke-dasharray="12 6"/>
<path d="M591.0,284.4 C590.6,285.5 589.4,287.6 588.9,290.8 C588.4,294.0 588.3,297.9 587.8,303.5 C587.3,309.1 586.4,317.6 585.7,324.7 C585.0,331.8 584.3,338.8 583.6,345.8 C582.9,352.9 582.2,359.9 581.5,367.0 C580.8,374.1 580.3,381.1 579.4,388.1 C578.5,395.2 577.1,400.7 576.2,409.3 C575.3,417.9 574.4,429.9 574.0,440.0 C573.6,450.1 574.2,461.4 573.9,470.0 C573.6,478.6 572.5,485.5 572.1,491.3 C571.7,497.1 571.9,500.7 571.5,505.0 C571.1,509.3 571.1,513.2 570.0,517.0 C568.9,520.8 567.1,524.5 565.0,527.5 C562.9,530.5 560.0,532.7 557.5,535.0 C555.0,537.3 552.1,539.4 550.0,541.3 C547.9,543.2 547.0,544.6 545.0,546.3 C543.0,548.0 540.2,550.0 538.0,551.5 C535.8,553.0 533.6,554.2 532.0,555.5 C530.4,556.8 529.4,556.9 528.5,559.0 C527.6,561.1 527.1,564.8 526.4,568.3 C525.7,571.8 525.1,576.2 524.5,580.0 C523.9,583.8 523.2,586.0 522.6,591.0 C522.0,596.0 521.1,606.8 520.8,610.0" fill="none" stroke="#000099" stroke-width="4.2" stroke-dasharray="12 6"/>
<path d="M376.0,267.0 C376.3,269.2 377.6,275.9 378.0,280.0 C378.4,284.1 378.8,286.7 378.7,291.9 C378.6,297.1 378.3,304.5 377.7,311.3 C377.1,318.1 375.6,327.4 374.8,332.6 C374.0,337.8 373.2,340.7 372.9,342.3" fill="none" stroke="#000099" stroke-width="4.2" stroke-dasharray="12 6"/>
<path d="M303.2,309.4 C303.1,308.4 302.4,306.1 302.3,303.5 C302.2,300.9 301.8,297.1 302.3,293.9 C302.8,290.7 303.8,287.8 305.2,284.2 C306.6,280.6 308.8,276.5 311.0,272.6 C313.2,268.7 315.8,264.6 318.7,261.0 C321.6,257.4 325.2,254.2 328.4,251.3 C331.6,248.4 334.9,245.8 338.1,243.5 C341.3,241.2 344.2,239.9 347.7,237.7 C351.2,235.5 351.1,235.2 359.2,230.5 C367.3,225.8 384.0,215.8 396.4,209.2 C408.8,202.5 422.2,195.9 433.7,190.6 C445.2,185.3 455.9,180.4 465.6,177.3 C475.4,174.2 482.4,172.4 492.2,171.9 C502.0,171.4 515.9,174.1 524.2,174.6 C532.5,175.1 537.5,174.5 542.0,174.8 C546.5,175.1 548.6,175.8 551.4,176.5 C554.2,177.2 556.5,177.5 558.8,178.9 C561.1,180.3 563.5,182.3 565.4,184.7 C567.3,187.0 568.5,190.0 570.0,193.0 C571.5,196.0 572.9,199.5 574.5,202.8 C576.1,206.1 578.0,209.5 579.4,212.7 C580.8,215.9 582.0,219.1 583.0,222.0 C584.0,224.9 585.0,227.0 585.2,230.0 C585.5,233.0 585.0,237.0 584.5,240.0 C584.0,243.0 582.4,246.7 582.0,248.0" fill="none" stroke="#3a90e8" stroke-width="4.2" stroke-dasharray="12 8"/>
<path d="M63.8,243.8 L76.5,248.2 L69.3,255.5Z" fill="#000"/>
<g fill="#fff" stroke="#000" stroke-width="2">
<rect x="475" y="504.5" width="21" height="15.5"/>
<path d="M536.3,561.3 L550.8,550 L562.3,563.8 L547.8,575Z"/>
<rect x="542.8" y="581.5" width="4.6" height="7.5"/>
<rect x="527.5" y="601.5" width="22" height="26.5"/>
<rect x="532.3" y="637.5" width="6.5" height="14.5"/>
<rect x="472.5" y="581.5" width="5.8" height="8.3"/>
<rect x="482.5" y="597.5" width="7" height="5.3"/>
<rect x="494.2" y="597.5" width="7.8" height="5.3"/>
<rect x="-6.5" y="-4" width="13" height="8" transform="translate(198.4,346.5) rotate(-33)"/>
</g>
<g fill="none" stroke-linecap="butt">
<path d="M287.3,296.3 Q288.5,304 289,311.6" stroke="#1f3d5c" stroke-width="2.6"/>
<path d="M295.8,320.5 L300.6,325" stroke="#1f3d5c" stroke-width="2.6"/>
<path d="M294.3,304 L294.6,309.2 Q292,312.6 282.9,312.8" stroke="#000" stroke-width="2"/>
<path d="M290.2,322.1 Q292,319 302.3,318" stroke="#000" stroke-width="2"/>
<path d="M293.4,311.6 L301.5,313.2 M281.7,318 L287.7,320.5" stroke="#000" stroke-width="3.5"/>
<path d="M444.7,420.8 L441.8,433.1" stroke="#1f3d5c" stroke-width="2.8"/>
<path d="M434.2,429.9 Q436,433 440.3,434.2 L445.4,434.6 Q447.5,434 449,432.4" stroke="#000" stroke-width="2"/>
<path d="M432.7,442.9 Q434,441 438.9,441.5 L443.2,442.6 Q445,445 445,447" stroke="#000" stroke-width="2"/>
<path d="M435,437.8 L445.8,438.2" stroke="#000" stroke-width="4"/>
<path d="M553.4,513.3 Q556.7,519.5 559.6,523.5 M566.9,532.9 Q569.8,536.9 571.6,542.4" stroke="#2a4760" stroke-width="2.6"/>
<path d="M563.6,516.2 Q565.5,520 564.3,522.4 Q558,528.2 552.7,528.2" stroke="#000" stroke-width="1.8"/>
<path d="M574.1,529.3 Q569,528.5 566.9,530.8 Q562,534.5 562.9,540.6" stroke="#000" stroke-width="1.8"/>
<path d="M537.1,667.8 Q534.5,676 533.4,683.9" stroke="#2b4760" stroke-width="2.8"/>
<path d="M525.2,682.2 Q526.5,685 531.4,685.1 L539.6,685.1 Q541.5,684 542.5,681.8" stroke="#000" stroke-width="2"/>
<path d="M525.2,707.8 Q526,704.6 531.4,704.5 L539.6,704.5 Q541.7,705 542.5,707.4" stroke="#000" stroke-width="2"/>
<path d="M534.2,705.3 Q534.3,715 534.7,723.4" stroke="#2b4760" stroke-width="2.8"/>
</g>
<path d="M452.4,751.3 L462.9,751.6 M471,752 L479.6,751" stroke="#000" stroke-width="3.6" fill="none"/>
<path d="M454.3,767.2 L464.8,767.2 M473.2,767.2 L480.8,767.2" stroke="#000099" stroke-width="3.6" fill="none"/>
<path d="M453,783.9 L462.9,783.9 M471,783.9 L479.6,783.9" stroke="#3a90e8" stroke-width="3.6" fill="none"/>
<use href="#marsh" x="456" y="791.5"/>
<path d="M454.5,815.5 C455,812 459,810.5 466,809.8 C472,810 477.5,811 479,815.5 C479.5,819.5 475,821.5 467,822.6 C460,822.5 454.5,820 454.5,815.5Z" fill="#1f3d5c"/>
<path d="M458,827.1 Q459.3,829.6 461,829.6 L471,829.6 Q473.2,829.4 474.4,826.5 M457.4,839.5 Q458.5,835.8 461,835.8 L471,835.8 Q473.5,836 474.7,839.5" stroke="#000" stroke-width="2.2" fill="none"/>
<path d="M51.3,799 L51.3,763" stroke="#000" stroke-width="2"/>
<path d="M45.5,765.8 L57,765.8 L51.3,755.5Z" fill="#000"/>
<path d="M42.5,836.8 L168.5,836.8 M42.5,832.5 L42.5,840.5 M168.5,832.5 L168.5,840.5" stroke="#000" stroke-width="2" fill="none"/>
<g fill="none" stroke="#111" stroke-width="1.1">
<path d="M134.0,116.0 L186.0,108.0" marker-end="url(#ah)"/>
<path d="M134.0,116.0 C136.2,117.0 143.7,118.5 147.0,122.0 C150.3,125.5 152.0,129.8 153.6,137.0 C155.2,144.2 156.2,160.3 156.7,165.0" marker-end="url(#ah)"/>
<path d="M535.0,127.5 C537.5,127.9 545.3,128.4 550.0,130.0 C554.7,131.6 559.7,133.7 563.0,137.0 C566.3,140.3 568.2,144.5 570.0,150.0 C571.8,155.5 572.9,163.2 573.5,170.0 C574.1,176.8 573.8,187.5 573.8,191.0" marker-end="url(#ah)"/>
<path d="M528.8,211.3 C530.2,212.3 533.5,216.1 537.5,217.5 C541.5,218.9 547.9,219.6 552.5,219.5 C557.1,219.4 561.1,218.2 565.0,217.0 C568.9,215.8 574.2,213.2 576.0,212.5" marker-end="url(#ah)"/>
<path d="M385.0,220.5 C385.8,221.7 387.9,225.3 390.0,227.5 C392.1,229.7 396.7,230.9 397.5,233.8 C398.3,236.7 395.2,241.1 395.0,245.0 C394.8,248.9 395.0,254.1 396.3,257.5 C397.6,260.9 401.9,264.2 403.0,265.5" marker-end="url(#ah)" marker-start="url(#ah)"/>
<path d="M537.0,261.2 L548.7,251.6" marker-end="url(#ah)"/>
<path d="M507.5,303.5 C505.4,301.9 499.6,296.5 495.0,293.8 C490.4,291.1 485.0,288.7 480.0,287.5 C475.0,286.3 469.4,286.3 465.0,286.5 C460.6,286.7 459.2,287.8 453.9,288.9 C448.5,290.0 440.2,291.6 432.9,293.1 C425.5,294.6 413.6,297.1 409.8,297.9" marker-end="url(#ah)"/>
<path d="M410.9,314.0 C409.4,311.7 404.3,304.5 402.0,300.0 C399.7,295.5 398.1,289.0 397.3,286.8" marker-end="url(#ahw)" stroke="#fff"/>
<path d="M451.6,410.7 C449.5,410.2 442.8,409.5 439.0,407.6 C435.2,405.7 431.7,402.4 428.6,399.2 C425.5,396.0 423.0,392.5 420.2,388.7 C417.4,384.9 414.8,380.5 411.8,376.1 C408.8,371.7 403.9,364.8 402.3,362.5" marker-end="url(#ah)"/>
<path d="M280.0,247.5 C278.8,250.0 275.4,257.1 272.5,262.5 C269.6,267.9 265.6,274.6 262.5,280.0 C259.4,285.4 256.1,290.0 254.0,295.0 C251.9,300.0 250.4,304.5 250.0,310.0 C249.6,315.5 251.1,325.0 251.3,328.0" marker-end="url(#ah)"/>
<path d="M298.8,223.8 C299.8,225.7 303.8,230.6 305.0,235.0 C306.2,239.4 306.7,244.6 306.3,250.0 C305.9,255.4 304.4,262.5 302.5,267.5 C300.6,272.5 298.6,276.1 295.0,280.0 C291.4,283.9 283.3,289.2 281.0,291.0" marker-end="url(#ah)"/>
<path d="M222.0,288.0 C223.7,291.3 228.2,301.3 232.0,308.0 C235.8,314.7 240.7,321.8 245.0,328.0 C249.3,334.2 253.4,339.7 258.0,345.0 C262.6,350.3 270.2,357.5 272.6,360.0" marker-end="url(#ah)"/>
<path d="M192.0,324.0 L186.3,335.5" marker-end="url(#ah)"/>
<path d="M76.0,355.0 C78.3,355.4 85.2,355.5 90.0,357.5 C94.8,359.5 100.0,363.8 105.0,367.0 C110.0,370.2 115.0,374.0 120.0,376.5 C125.0,379.0 130.0,380.6 135.0,382.0 C140.0,383.4 144.1,384.1 150.0,385.0 C155.9,385.9 166.9,387.2 170.3,387.7" marker-end="url(#ah)"/>
<path d="M156.0,362.6 C157.1,364.5 159.9,371.3 162.6,374.2 C165.3,377.1 167.8,378.6 172.3,380.0 C176.8,381.4 186.8,382.2 189.7,382.7" marker-end="url(#ah)"/>
<path d="M128.0,422.0 C129.6,424.3 135.2,431.1 137.4,436.0 C139.6,440.9 140.5,446.9 141.0,451.6 C141.5,456.3 140.6,461.9 140.5,464.0" marker-end="url(#ah)"/>
<path d="M70.0,455.0 C72.9,455.6 81.2,457.8 87.5,458.8 C93.8,459.9 101.2,460.3 107.5,461.3 C113.8,462.3 120.8,464.0 125.0,465.0 C129.2,466.0 131.2,467.1 132.5,467.5" marker-end="url(#ah)"/>
<path d="M61.3,492.5 C62.3,491.2 64.8,486.7 67.5,485.0 C70.2,483.3 74.6,482.1 77.5,482.5 C80.4,482.9 83.2,485.6 85.0,487.5 C86.8,489.4 87.5,492.8 88.0,493.8" marker-end="url(#ah)"/>
<path d="M124.2,512.6 L121.0,480.3" marker-end="url(#ah)"/>
<path d="M135.5,512.6 C137.4,511.3 139.4,506.3 146.8,505.0 C154.2,503.7 172.0,505.4 180.0,505.0 C188.0,504.6 191.4,504.2 195.0,502.5 C198.6,500.8 200.1,497.7 201.3,495.0 C202.5,492.3 201.9,487.8 202.0,486.3" marker-end="url(#ah)"/>
<path d="M143.5,514.2 C149.4,514.4 171.2,515.4 179.0,515.5 C186.8,515.6 186.1,514.2 190.0,515.0 C193.9,515.8 199.8,517.5 202.5,520.0 C205.2,522.5 205.7,526.9 206.3,530.0 C206.9,533.1 206.3,537.3 206.3,538.8" marker-end="url(#ah)"/>
<path d="M248.8,450.0 C248.6,452.5 248.6,460.4 247.5,465.0 C246.4,469.6 244.6,474.2 242.5,477.5 C240.4,480.8 236.2,483.3 235.0,484.5" marker-end="url(#ah)"/>
<path d="M257.5,450.0 C257.9,451.2 258.5,455.4 260.0,457.5 C261.5,459.6 263.4,461.4 266.3,462.5 C269.2,463.6 275.6,463.6 277.5,463.8" marker-end="url(#ah)"/>
<path d="M395.0,561.0 C399.6,558.8 413.8,553.2 422.5,548.0 C431.2,542.8 440.1,534.9 447.5,530.0 C454.9,525.1 463.4,520.4 466.6,518.5" marker-end="url(#ah)"/>
<path d="M530.5,501.0 C530.2,503.8 530.4,512.8 529.0,518.0 C527.6,523.2 525.2,528.6 522.0,532.0 C518.8,535.4 514.7,537.2 510.0,538.5 C505.3,539.8 496.4,539.3 493.7,539.5" marker-end="url(#ah)"/>
<path d="M477.5,677.5 C479.6,677.9 486.2,679.2 490.0,680.0 C493.8,680.8 497.1,681.8 500.0,682.5 C502.9,683.2 506.2,684.2 507.5,684.5" marker-end="url(#ah)"/>
<path d="M415.0,687.5 C416.2,688.1 420.0,690.5 422.5,691.3 C425.0,692.1 426.7,692.1 430.0,692.5 C433.3,692.9 440.4,693.6 442.5,693.8" marker-end="url(#ah)"/>
</g>
<text x="169.5" y="20.5" font-size="16.00" text-anchor="start" fill="#fff" stroke="#fff" stroke-width="3" stroke-linejoin="round" font-weight="bold">REGUA Wetland and Adjacent Trails</text>
<text x="169.5" y="20.5" font-size="16.00" text-anchor="start" fill="#000" stroke="#000" stroke-width="0.25" font-weight="bold">REGUA Wetland and Adjacent Trails</text>
<text x="13.0" y="67.0" font-size="10.90" text-anchor="start" fill="#fff" stroke="#fff" stroke-width="3" stroke-linejoin="round" font-weight="normal">White-chinned Sapphire</text>
<text x="13.0" y="67.0" font-size="10.90" text-anchor="start" fill="#000" stroke="#000" stroke-width="0.25" font-weight="normal">White-chinned Sapphire</text>
<text x="13.0" y="81.0" font-size="10.90" text-anchor="start" fill="#fff" stroke="#fff" stroke-width="3" stroke-linejoin="round" font-weight="normal">Ferruginous Pigmy-Owl</text>
<text x="13.0" y="81.0" font-size="10.90" text-anchor="start" fill="#000" stroke="#000" stroke-width="0.25" font-weight="normal">Ferruginous Pigmy-Owl</text>
<text x="13.0" y="95.0" font-size="10.90" text-anchor="start" fill="#fff" stroke="#fff" stroke-width="3" stroke-linejoin="round" font-weight="normal">Rufous-tailed Jacamar</text>
<text x="13.0" y="95.0" font-size="10.90" text-anchor="start" fill="#000" stroke="#000" stroke-width="0.25" font-weight="normal">Rufous-tailed Jacamar</text>
<text x="13.0" y="109.0" font-size="10.90" text-anchor="start" fill="#fff" stroke="#fff" stroke-width="3" stroke-linejoin="round" font-weight="normal">Chestnut-backed Antshrike</text>
<text x="13.0" y="109.0" font-size="10.90" text-anchor="start" fill="#000" stroke="#000" stroke-width="0.25" font-weight="normal">Chestnut-backed Antshrike</text>
<text x="13.0" y="123.0" font-size="10.90" text-anchor="start" fill="#fff" stroke="#fff" stroke-width="3" stroke-linejoin="round" font-weight="normal">White-flanked Antwren</text>
<text x="13.0" y="123.0" font-size="10.90" text-anchor="start" fill="#000" stroke="#000" stroke-width="0.25" font-weight="normal">White-flanked Antwren</text>
<text x="13.0" y="137.0" font-size="10.90" text-anchor="start" fill="#fff" stroke="#fff" stroke-width="3" stroke-linejoin="round" font-weight="normal">White-winged Becard</text>
<text x="13.0" y="137.0" font-size="10.90" text-anchor="start" fill="#000" stroke="#000" stroke-width="0.25" font-weight="normal">White-winged Becard</text>
<text x="13.0" y="151.0" font-size="10.90" text-anchor="start" fill="#fff" stroke="#fff" stroke-width="3" stroke-linejoin="round" font-weight="normal">Long-billed Wren</text>
<text x="13.0" y="151.0" font-size="10.90" text-anchor="start" fill="#000" stroke="#000" stroke-width="0.25" font-weight="normal">Long-billed Wren</text>
<text x="13.0" y="165.0" font-size="10.90" text-anchor="start" fill="#fff" stroke="#fff" stroke-width="3" stroke-linejoin="round" font-weight="normal">Moustached Wren</text>
<text x="13.0" y="165.0" font-size="10.90" text-anchor="start" fill="#000" stroke="#000" stroke-width="0.25" font-weight="normal">Moustached Wren</text>
<text x="13.0" y="179.0" font-size="10.90" text-anchor="start" fill="#fff" stroke="#fff" stroke-width="3" stroke-linejoin="round" font-weight="normal">Lemon-chested Greenlet</text>
<text x="13.0" y="179.0" font-size="10.90" text-anchor="start" fill="#000" stroke="#000" stroke-width="0.25" font-weight="normal">Lemon-chested Greenlet</text>
<text x="13.0" y="193.0" font-size="10.90" text-anchor="start" fill="#fff" stroke="#fff" stroke-width="3" stroke-linejoin="round" font-weight="normal">Brazilian Tanager</text>
<text x="13.0" y="193.0" font-size="10.90" text-anchor="start" fill="#000" stroke="#000" stroke-width="0.25" font-weight="normal">Brazilian Tanager</text>
<text x="326.5" y="99.7" font-size="10.90" text-anchor="start" fill="#fff" stroke="#fff" stroke-width="3" stroke-linejoin="round" font-weight="normal">Grey-headed Kite</text>
<text x="326.5" y="99.7" font-size="10.90" text-anchor="start" fill="#000" stroke="#000" stroke-width="0.25" font-weight="normal">Grey-headed Kite</text>
<text x="326.5" y="113.7" font-size="10.90" text-anchor="start" fill="#fff" stroke="#fff" stroke-width="3" stroke-linejoin="round" font-weight="normal">Crane Hawk</text>
<text x="326.5" y="113.7" font-size="10.90" text-anchor="start" fill="#000" stroke="#000" stroke-width="0.25" font-weight="normal">Crane Hawk</text>
<text x="326.5" y="127.7" font-size="10.90" text-anchor="start" fill="#fff" stroke="#fff" stroke-width="3" stroke-linejoin="round" font-weight="normal">Savanna Hawk</text>
<text x="326.5" y="127.7" font-size="10.90" text-anchor="start" fill="#000" stroke="#000" stroke-width="0.25" font-weight="normal">Savanna Hawk</text>
<text x="326.5" y="141.7" font-size="10.90" text-anchor="start" fill="#fff" stroke="#fff" stroke-width="3" stroke-linejoin="round" font-weight="normal">Laughing Falcon</text>
<text x="326.5" y="141.7" font-size="10.90" text-anchor="start" fill="#000" stroke="#000" stroke-width="0.25" font-weight="normal">Laughing Falcon</text>
<text x="326.5" y="155.7" font-size="10.90" text-anchor="start" fill="#fff" stroke="#fff" stroke-width="3" stroke-linejoin="round" font-weight="normal">(Overhead)</text>
<text x="326.5" y="155.7" font-size="10.90" text-anchor="start" fill="#000" stroke="#000" stroke-width="0.25" font-weight="normal">(Overhead)</text>
<text x="440.0" y="107.5" font-size="10.90" text-anchor="start" fill="#fff" stroke="#fff" stroke-width="3" stroke-linejoin="round" font-weight="normal">Channel-billed Toucan</text>
<text x="440.0" y="107.5" font-size="10.90" text-anchor="start" fill="#000" stroke="#000" stroke-width="0.25" font-weight="normal">Channel-billed Toucan</text>
<text x="440.0" y="121.5" font-size="10.90" text-anchor="start" fill="#fff" stroke="#fff" stroke-width="3" stroke-linejoin="round" font-weight="normal">Blond-crested Woodpecker</text>
<text x="440.0" y="121.5" font-size="10.90" text-anchor="start" fill="#000" stroke="#000" stroke-width="0.25" font-weight="normal">Blond-crested Woodpecker</text>
<text x="440.0" y="135.5" font-size="10.90" text-anchor="start" fill="#fff" stroke="#fff" stroke-width="3" stroke-linejoin="round" font-weight="normal">Chicli Spinetail</text>
<text x="440.0" y="135.5" font-size="10.90" text-anchor="start" fill="#000" stroke="#000" stroke-width="0.25" font-weight="normal">Chicli Spinetail</text>
<text x="440.0" y="149.5" font-size="10.90" text-anchor="start" fill="#fff" stroke="#fff" stroke-width="3" stroke-linejoin="round" font-weight="normal">Moustached Wren</text>
<text x="440.0" y="149.5" font-size="10.90" text-anchor="start" fill="#000" stroke="#000" stroke-width="0.25" font-weight="normal">Moustached Wren</text>
<text x="352.5" y="73.8" font-size="12.50" text-anchor="start" fill="#fff" stroke="#fff" stroke-width="3" stroke-linejoin="round" font-weight="normal">Replanted area</text>
<text x="352.5" y="73.8" font-size="12.50" text-anchor="start" fill="#000" stroke="#000" stroke-width="0.25" font-weight="normal">Replanted area</text>
<text x="201.0" y="164.0" font-size="12.50" text-anchor="start" fill="#fff" stroke="#fff" stroke-width="3" stroke-linejoin="round" font-weight="normal">Replanted area</text>
<text x="201.0" y="164.0" font-size="12.50" text-anchor="start" fill="#000" stroke="#000" stroke-width="0.25" font-weight="normal">Replanted area</text>
<text x="247.0" y="204.5" font-size="10.90" text-anchor="start" fill="#fff" stroke="#fff" stroke-width="3" stroke-linejoin="round" font-weight="normal">Limpkin</text>
<text x="247.0" y="204.5" font-size="10.90" text-anchor="start" fill="#000" stroke="#000" stroke-width="0.25" font-weight="normal">Limpkin</text>
<text x="247.0" y="218.5" font-size="10.90" text-anchor="start" fill="#fff" stroke="#fff" stroke-width="3" stroke-linejoin="round" font-weight="normal">Masked Yellowthroat</text>
<text x="247.0" y="218.5" font-size="10.90" text-anchor="start" fill="#000" stroke="#000" stroke-width="0.25" font-weight="normal">Masked Yellowthroat</text>
<text x="201.3" y="240.0" font-size="10.90" text-anchor="start" fill="#fff" stroke="#fff" stroke-width="3" stroke-linejoin="round" font-weight="normal">Tail-banded Hornero</text>
<text x="201.3" y="240.0" font-size="10.90" text-anchor="start" fill="#000" stroke="#000" stroke-width="0.25" font-weight="normal">Tail-banded Hornero</text>
<text x="133.2" y="261.2" font-size="10.90" text-anchor="start" fill="#fff" stroke="#fff" stroke-width="3" stroke-linejoin="round" font-weight="normal">Chestnut-capped Blackbird</text>
<text x="133.2" y="261.2" font-size="10.90" text-anchor="start" fill="#000" stroke="#000" stroke-width="0.25" font-weight="normal">Chestnut-capped Blackbird</text>
<text x="133.2" y="275.2" font-size="10.90" text-anchor="start" fill="#fff" stroke="#fff" stroke-width="3" stroke-linejoin="round" font-weight="normal">Pinnated Bittern</text>
<text x="133.2" y="275.2" font-size="10.90" text-anchor="start" fill="#000" stroke="#000" stroke-width="0.25" font-weight="normal">Pinnated Bittern</text>
<text x="133.2" y="289.2" font-size="10.90" text-anchor="start" fill="#fff" stroke="#fff" stroke-width="3" stroke-linejoin="round" font-weight="normal">Rufous-sided Crake</text>
<text x="133.2" y="289.2" font-size="10.90" text-anchor="start" fill="#000" stroke="#000" stroke-width="0.25" font-weight="normal">Rufous-sided Crake</text>
<text x="133.2" y="303.2" font-size="10.90" text-anchor="start" fill="#fff" stroke="#fff" stroke-width="3" stroke-linejoin="round" font-weight="normal">Blackish Rail</text>
<text x="133.2" y="303.2" font-size="10.90" text-anchor="start" fill="#000" stroke="#000" stroke-width="0.25" font-weight="normal">Blackish Rail</text>
<text x="63.8" y="223.8" font-size="12.20" text-anchor="middle" fill="#fff" stroke="#fff" stroke-width="3" stroke-linejoin="round" font-weight="normal">São José Trail</text>
<text x="63.8" y="223.8" font-size="12.20" text-anchor="middle" fill="#000" stroke="#000" stroke-width="0.25" font-weight="normal">São José Trail</text>
<text x="63.2" y="238.8" font-size="12.20" text-anchor="middle" fill="#fff" stroke="#fff" stroke-width="3" stroke-linejoin="round" font-weight="normal">(3.3 km, very steep)</text>
<text x="63.2" y="238.8" font-size="12.20" text-anchor="middle" fill="#000" stroke="#000" stroke-width="0.25" font-weight="normal">(3.3 km, very steep)</text>
<text x="403.8" y="221.3" font-size="10.90" text-anchor="start" fill="#fff" stroke="#fff" stroke-width="3" stroke-linejoin="round" font-weight="normal">Long-billed Wren</text>
<text x="403.8" y="221.3" font-size="10.90" text-anchor="start" fill="#000" stroke="#000" stroke-width="0.25" font-weight="normal">Long-billed Wren</text>
<text x="403.8" y="235.3" font-size="10.90" text-anchor="start" fill="#fff" stroke="#fff" stroke-width="3" stroke-linejoin="round" font-weight="normal">Sooretama Slaty-Antshrike</text>
<text x="403.8" y="235.3" font-size="10.90" text-anchor="start" fill="#000" stroke="#000" stroke-width="0.25" font-weight="normal">Sooretama Slaty-Antshrike</text>
<text x="403.8" y="249.3" font-size="10.90" text-anchor="start" fill="#fff" stroke="#fff" stroke-width="3" stroke-linejoin="round" font-weight="normal">Squirrel Cuckoo</text>
<text x="403.8" y="249.3" font-size="10.90" text-anchor="start" fill="#000" stroke="#000" stroke-width="0.25" font-weight="normal">Squirrel Cuckoo</text>
<text x="487.0" y="207.5" font-size="10.90" text-anchor="start" fill="#fff" stroke="#fff" stroke-width="3" stroke-linejoin="round" font-weight="normal">Tufted Antshrike</text>
<text x="487.0" y="207.5" font-size="10.90" text-anchor="start" fill="#000" stroke="#000" stroke-width="0.25" font-weight="normal">Tufted Antshrike</text>
<text x="535.5" y="269.2" font-size="10.90" text-anchor="middle" fill="#fff" stroke="#fff" stroke-width="3" stroke-linejoin="round" font-weight="normal">White-bearded</text>
<text x="535.5" y="269.2" font-size="10.90" text-anchor="middle" fill="#000" stroke="#000" stroke-width="0.25" font-weight="normal">White-bearded</text>
<text x="536.8" y="283.4" font-size="10.90" text-anchor="middle" fill="#fff" stroke="#fff" stroke-width="3" stroke-linejoin="round" font-weight="normal">Manakin (Lek)</text>
<text x="536.8" y="283.4" font-size="10.90" text-anchor="middle" fill="#000" stroke="#000" stroke-width="0.25" font-weight="normal">Manakin (Lek)</text>
<text x="527.5" y="313.5" font-size="10.90" text-anchor="middle" fill="#fff" stroke="#fff" stroke-width="3" stroke-linejoin="round" font-weight="normal">Black-crowned</text>
<text x="527.5" y="313.5" font-size="10.90" text-anchor="middle" fill="#000" stroke="#000" stroke-width="0.25" font-weight="normal">Black-crowned</text>
<text x="527.5" y="327.3" font-size="10.90" text-anchor="middle" fill="#fff" stroke="#fff" stroke-width="3" stroke-linejoin="round" font-weight="normal">Night-Heron</text>
<text x="527.5" y="327.3" font-size="10.90" text-anchor="middle" fill="#000" stroke="#000" stroke-width="0.25" font-weight="normal">Night-Heron</text>
<text x="527.5" y="341.2" font-size="10.90" text-anchor="middle" fill="#fff" stroke="#fff" stroke-width="3" stroke-linejoin="round" font-weight="normal">(Roost)</text>
<text x="527.5" y="341.2" font-size="10.90" text-anchor="middle" fill="#000" stroke="#000" stroke-width="0.25" font-weight="normal">(Roost)</text>
<text x="541.0" y="376.5" font-size="12.50" text-anchor="middle" fill="#fff" stroke="#fff" stroke-width="3" stroke-linejoin="round" font-weight="normal">Replanted</text>
<text x="541.0" y="376.5" font-size="12.50" text-anchor="middle" fill="#000" stroke="#000" stroke-width="0.25" font-weight="normal">Replanted</text>
<text x="541.0" y="392.4" font-size="12.50" text-anchor="middle" fill="#fff" stroke="#fff" stroke-width="3" stroke-linejoin="round" font-weight="normal">area</text>
<text x="541.0" y="392.4" font-size="12.50" text-anchor="middle" fill="#000" stroke="#000" stroke-width="0.25" font-weight="normal">area</text>
<text x="532.0" y="412.5" font-size="10.90" text-anchor="end" fill="#fff" stroke="#fff" stroke-width="3" stroke-linejoin="round" font-weight="normal">South American</text>
<text x="532.0" y="412.5" font-size="10.90" text-anchor="end" fill="#000" stroke="#000" stroke-width="0.25" font-weight="normal">South American</text>
<text x="500.0" y="427.5" font-size="10.90" text-anchor="middle" fill="#fff" stroke="#fff" stroke-width="3" stroke-linejoin="round" font-weight="normal">Snipe</text>
<text x="500.0" y="427.5" font-size="10.90" text-anchor="middle" fill="#000" stroke="#000" stroke-width="0.25" font-weight="normal">Snipe</text>
<text x="312.0" y="308.4" font-size="12.80" text-anchor="start" fill="#fff" stroke="#fff" stroke-width="3" stroke-linejoin="round" font-weight="normal">Viewpoint</text>
<text x="312.0" y="308.4" font-size="12.80" text-anchor="start" fill="#000" stroke="#000" stroke-width="0.25" font-weight="normal">Viewpoint</text>
<text x="183.9" y="321.3" font-size="12.00" text-anchor="start" fill="#fff" stroke="#fff" stroke-width="3" stroke-linejoin="round" font-weight="normal">Gate</text>
<text x="183.9" y="321.3" font-size="12.00" text-anchor="start" fill="#000" stroke="#000" stroke-width="0.25" font-weight="normal">Gate</text>
<text x="181.3" y="363.8" font-size="12.50" text-anchor="start" fill="#fff" stroke="#fff" stroke-width="3" stroke-linejoin="round" font-weight="normal">Hide</text>
<text x="181.3" y="363.8" font-size="12.50" text-anchor="start" fill="#000" stroke="#000" stroke-width="0.25" font-weight="normal">Hide</text>
<text x="45.0" y="351.3" font-size="10.90" text-anchor="middle" fill="#fff" stroke="#fff" stroke-width="3" stroke-linejoin="round" font-weight="normal">Rufescent</text>
<text x="45.0" y="351.3" font-size="10.90" text-anchor="middle" fill="#000" stroke="#000" stroke-width="0.25" font-weight="normal">Rufescent</text>
<text x="45.0" y="365.0" font-size="10.90" text-anchor="middle" fill="#fff" stroke="#fff" stroke-width="3" stroke-linejoin="round" font-weight="normal">Tiger-Heron</text>
<text x="45.0" y="365.0" font-size="10.90" text-anchor="middle" fill="#000" stroke="#000" stroke-width="0.25" font-weight="normal">Tiger-Heron</text>
<text x="145.2" y="344.0" font-size="10.90" text-anchor="middle" fill="#fff" stroke="#fff" stroke-width="3" stroke-linejoin="round" font-weight="normal">Stripe-backed</text>
<text x="145.2" y="344.0" font-size="10.90" text-anchor="middle" fill="#000" stroke="#000" stroke-width="0.25" font-weight="normal">Stripe-backed</text>
<text x="146.3" y="358.3" font-size="10.90" text-anchor="middle" fill="#fff" stroke="#fff" stroke-width="3" stroke-linejoin="round" font-weight="normal">Bittern</text>
<text x="146.3" y="358.3" font-size="10.90" text-anchor="middle" fill="#000" stroke="#000" stroke-width="0.25" font-weight="normal">Bittern</text>
<text x="100.6" y="417.6" font-size="10.90" text-anchor="start" fill="#fff" stroke="#fff" stroke-width="3" stroke-linejoin="round" font-weight="normal">Giant Snipe</text>
<text x="100.6" y="417.6" font-size="10.90" text-anchor="start" fill="#000" stroke="#000" stroke-width="0.25" font-weight="normal">Giant Snipe</text>
<text x="42.0" y="448.8" font-size="10.90" text-anchor="middle" fill="#fff" stroke="#fff" stroke-width="3" stroke-linejoin="round" font-weight="normal">Ash-throated</text>
<text x="42.0" y="448.8" font-size="10.90" text-anchor="middle" fill="#000" stroke="#000" stroke-width="0.25" font-weight="normal">Ash-throated</text>
<text x="42.0" y="462.5" font-size="10.90" text-anchor="middle" fill="#fff" stroke="#fff" stroke-width="3" stroke-linejoin="round" font-weight="normal">Crake</text>
<text x="42.0" y="462.5" font-size="10.90" text-anchor="middle" fill="#000" stroke="#000" stroke-width="0.25" font-weight="normal">Crake</text>
<text x="50.6" y="503.3" font-size="10.90" text-anchor="middle" fill="#fff" stroke="#fff" stroke-width="3" stroke-linejoin="round" font-weight="normal">Scissor-tailed</text>
<text x="50.6" y="503.3" font-size="10.90" text-anchor="middle" fill="#000" stroke="#000" stroke-width="0.25" font-weight="normal">Scissor-tailed</text>
<text x="50.6" y="517.5" font-size="10.90" text-anchor="middle" fill="#fff" stroke="#fff" stroke-width="3" stroke-linejoin="round" font-weight="normal">Nightjar</text>
<text x="50.6" y="517.5" font-size="10.90" text-anchor="middle" fill="#000" stroke="#000" stroke-width="0.25" font-weight="normal">Nightjar</text>
<text x="106.5" y="524.5" font-size="10.90" text-anchor="start" fill="#fff" stroke="#fff" stroke-width="3" stroke-linejoin="round" font-weight="normal">Pauraque</text>
<text x="106.5" y="524.5" font-size="10.90" text-anchor="start" fill="#000" stroke="#000" stroke-width="0.25" font-weight="normal">Pauraque</text>
<text x="204.5" y="446.8" font-size="10.90" text-anchor="start" fill="#fff" stroke="#fff" stroke-width="3" stroke-linejoin="round" font-weight="normal">Yellowish Pipit</text>
<text x="204.5" y="446.8" font-size="10.90" text-anchor="start" fill="#000" stroke="#000" stroke-width="0.25" font-weight="normal">Yellowish Pipit</text>
<text x="335.3" y="374.3" font-size="10.90" text-anchor="middle" fill="#fff" stroke="#fff" stroke-width="0.25" font-weight="normal">Masked Duck</text>
<text x="294.5" y="392.9" font-size="10.90" text-anchor="middle" fill="#fff" stroke="#fff" stroke-width="0.25" font-weight="normal">Whistling, Capped</text>
<text x="295.3" y="407.1" font-size="10.90" text-anchor="middle" fill="#fff" stroke="#fff" stroke-width="0.25" font-weight="normal">&amp; Striated Herons</text>
<text x="343.3" y="447.7" font-size="10.90" text-anchor="middle" fill="#fff" stroke="#fff" stroke-width="0.25" font-weight="normal">Ringed, Amazon</text>
<text x="342.2" y="462.2" font-size="10.90" text-anchor="middle" fill="#fff" stroke="#fff" stroke-width="0.25" font-weight="normal">&amp; Green Kingfishers</text>
<text x="439.2" y="316.6" font-size="10.90" text-anchor="middle" fill="#fff" stroke="#fff" stroke-width="0.25" font-weight="normal">Sungrebe</text>
<text x="439.2" y="330.8" font-size="10.90" text-anchor="middle" fill="#fff" stroke="#fff" stroke-width="0.25" font-weight="normal">(2nd record)</text>
<text x="528.6" y="481.4" font-size="12.00" text-anchor="middle" fill="#fff" stroke="#fff" stroke-width="3" stroke-linejoin="round" font-weight="normal">Tawny-browed</text>
<text x="528.6" y="481.4" font-size="12.00" text-anchor="middle" fill="#000" stroke="#000" stroke-width="0.25" font-weight="normal">Tawny-browed</text>
<text x="528.5" y="495.5" font-size="12.00" text-anchor="middle" fill="#fff" stroke="#fff" stroke-width="3" stroke-linejoin="round" font-weight="normal">Owl</text>
<text x="528.5" y="495.5" font-size="12.00" text-anchor="middle" fill="#000" stroke="#000" stroke-width="0.25" font-weight="normal">Owl</text>
<text x="469.3" y="532.4" font-size="12.20" text-anchor="start" fill="#fff" stroke="#fff" stroke-width="3" stroke-linejoin="round" font-weight="normal">Lodge</text>
<text x="469.3" y="532.4" font-size="12.20" text-anchor="start" fill="#000" stroke="#000" stroke-width="0.25" font-weight="normal">Lodge</text>
<text x="564.0" y="567.6" font-size="12.40" text-anchor="start" fill="#fff" stroke="#fff" stroke-width="3" stroke-linejoin="round" font-weight="normal">Nursery</text>
<text x="564.0" y="567.6" font-size="12.40" text-anchor="start" fill="#000" stroke="#000" stroke-width="0.25" font-weight="normal">Nursery</text>
<text x="556.0" y="611.2" font-size="12.50" text-anchor="start" fill="#fff" stroke="#fff" stroke-width="3" stroke-linejoin="round" font-weight="normal">REGUA</text>
<text x="556.0" y="611.2" font-size="12.50" text-anchor="start" fill="#000" stroke="#000" stroke-width="0.25" font-weight="normal">REGUA</text>
<text x="563.2" y="627.2" font-size="12.50" text-anchor="start" fill="#fff" stroke="#fff" stroke-width="3" stroke-linejoin="round" font-weight="normal">office</text>
<text x="563.2" y="627.2" font-size="12.50" text-anchor="start" fill="#000" stroke="#000" stroke-width="0.25" font-weight="normal">office</text>
<text x="541.2" y="649.2" font-size="12.50" text-anchor="start" fill="#fff" stroke="#fff" stroke-width="3" stroke-linejoin="round" font-weight="normal">Toilets</text>
<text x="541.2" y="649.2" font-size="12.50" text-anchor="start" fill="#000" stroke="#000" stroke-width="0.25" font-weight="normal">Toilets</text>
<text x="475.7" y="616.6" font-size="12.50" text-anchor="middle" fill="#fff" stroke="#fff" stroke-width="3" stroke-linejoin="round" font-weight="normal">Volunteer</text>
<text x="475.7" y="616.6" font-size="12.50" text-anchor="middle" fill="#000" stroke="#000" stroke-width="0.25" font-weight="normal">Volunteer</text>
<text x="475.7" y="632.5" font-size="12.50" text-anchor="middle" fill="#fff" stroke="#fff" stroke-width="3" stroke-linejoin="round" font-weight="normal">houses</text>
<text x="475.7" y="632.5" font-size="12.50" text-anchor="middle" fill="#000" stroke="#000" stroke-width="0.25" font-weight="normal">houses</text>
<text x="473.6" y="658.0" font-size="12.30" text-anchor="middle" fill="#fff" stroke="#fff" stroke-width="3" stroke-linejoin="round" font-weight="normal">Reserve</text>
<text x="473.6" y="658.0" font-size="12.30" text-anchor="middle" fill="#000" stroke="#000" stroke-width="0.25" font-weight="normal">Reserve</text>
<text x="474.0" y="673.3" font-size="12.30" text-anchor="middle" fill="#fff" stroke="#fff" stroke-width="3" stroke-linejoin="round" font-weight="normal">entrance</text>
<text x="474.0" y="673.3" font-size="12.30" text-anchor="middle" fill="#000" stroke="#000" stroke-width="0.25" font-weight="normal">entrance</text>
<text x="401.8" y="685.0" font-size="12.20" text-anchor="start" fill="#fff" stroke="#fff" stroke-width="3" stroke-linejoin="round" font-weight="normal">Gate</text>
<text x="401.8" y="685.0" font-size="12.20" text-anchor="start" fill="#000" stroke="#000" stroke-width="0.25" font-weight="normal">Gate</text>
<text x="276.3" y="526.3" font-size="10.90" text-anchor="start" fill="#fff" stroke="#fff" stroke-width="3" stroke-linejoin="round" font-weight="normal">Crescent-chested Puffbird</text>
<text x="276.3" y="526.3" font-size="10.90" text-anchor="start" fill="#000" stroke="#000" stroke-width="0.25" font-weight="normal">Crescent-chested Puffbird</text>
<text x="276.3" y="540.3" font-size="10.90" text-anchor="start" fill="#fff" stroke="#fff" stroke-width="3" stroke-linejoin="round" font-weight="normal">Rufous-tailed Jacamar</text>
<text x="276.3" y="540.3" font-size="10.90" text-anchor="start" fill="#000" stroke="#000" stroke-width="0.25" font-weight="normal">Rufous-tailed Jacamar</text>
<text x="276.3" y="554.3" font-size="10.90" text-anchor="start" fill="#fff" stroke="#fff" stroke-width="3" stroke-linejoin="round" font-weight="normal">Blond-crested Woodpecker</text>
<text x="276.3" y="554.3" font-size="10.90" text-anchor="start" fill="#000" stroke="#000" stroke-width="0.25" font-weight="normal">Blond-crested Woodpecker</text>
<text x="276.3" y="568.3" font-size="10.90" text-anchor="start" fill="#fff" stroke="#fff" stroke-width="3" stroke-linejoin="round" font-weight="normal">White Woodpecker</text>
<text x="276.3" y="568.3" font-size="10.90" text-anchor="start" fill="#000" stroke="#000" stroke-width="0.25" font-weight="normal">White Woodpecker</text>
<text x="276.3" y="582.3" font-size="10.90" text-anchor="start" fill="#fff" stroke="#fff" stroke-width="3" stroke-linejoin="round" font-weight="normal">Yellow-lored Tody-Flycatcher</text>
<text x="276.3" y="582.3" font-size="10.90" text-anchor="start" fill="#000" stroke="#000" stroke-width="0.25" font-weight="normal">Yellow-lored Tody-Flycatcher</text>
<text x="276.3" y="596.3" font-size="10.90" text-anchor="start" fill="#fff" stroke="#fff" stroke-width="3" stroke-linejoin="round" font-weight="normal">Chestnut-vented Conebill</text>
<text x="276.3" y="596.3" font-size="10.90" text-anchor="start" fill="#000" stroke="#000" stroke-width="0.25" font-weight="normal">Chestnut-vented Conebill</text>
<text x="276.3" y="610.3" font-size="10.90" text-anchor="start" fill="#fff" stroke="#fff" stroke-width="3" stroke-linejoin="round" font-weight="normal">Red-rumped Cacique</text>
<text x="276.3" y="610.3" font-size="10.90" text-anchor="start" fill="#000" stroke="#000" stroke-width="0.25" font-weight="normal">Red-rumped Cacique</text>
<text x="55.8" y="573.8" font-size="10.90" text-anchor="start" fill="#fff" stroke="#fff" stroke-width="3" stroke-linejoin="round" font-weight="normal">Black-and-white Hawk-Eagle</text>
<text x="55.8" y="573.8" font-size="10.90" text-anchor="start" fill="#000" stroke="#000" stroke-width="0.25" font-weight="normal">Black-and-white Hawk-Eagle</text>
<text x="55.8" y="587.8" font-size="10.90" text-anchor="start" fill="#fff" stroke="#fff" stroke-width="3" stroke-linejoin="round" font-weight="normal">Aplomado Falcon</text>
<text x="55.8" y="587.8" font-size="10.90" text-anchor="start" fill="#000" stroke="#000" stroke-width="0.25" font-weight="normal">Aplomado Falcon</text>
<text x="55.8" y="601.8" font-size="10.90" text-anchor="start" fill="#fff" stroke="#fff" stroke-width="3" stroke-linejoin="round" font-weight="normal">(Overhead)</text>
<text x="55.8" y="601.8" font-size="10.90" text-anchor="start" fill="#000" stroke="#000" stroke-width="0.25" font-weight="normal">(Overhead)</text>
<text x="453.1" y="738.2" font-size="14.00" text-anchor="start" fill="#fff" stroke="#fff" stroke-width="3" stroke-linejoin="round" font-weight="bold">Key</text>
<text x="453.1" y="738.2" font-size="14.00" text-anchor="start" fill="#000" stroke="#000" stroke-width="0.25" font-weight="bold">Key</text>
<text x="489.4" y="754.8" font-size="12.30" text-anchor="start" fill="#fff" stroke="#fff" stroke-width="3" stroke-linejoin="round" font-weight="normal">Trail (unmarked)</text>
<text x="489.4" y="754.8" font-size="12.30" text-anchor="start" fill="#000" stroke="#000" stroke-width="0.25" font-weight="normal">Trail (unmarked)</text>
<text x="489.4" y="770.7" font-size="12.30" text-anchor="start" fill="#fff" stroke="#fff" stroke-width="3" stroke-linejoin="round" font-weight="normal">Nursery Trail</text>
<text x="489.4" y="770.7" font-size="12.30" text-anchor="start" fill="#000" stroke="#000" stroke-width="0.25" font-weight="normal">Nursery Trail</text>
<text x="489.4" y="786.7" font-size="12.30" text-anchor="start" fill="#fff" stroke="#fff" stroke-width="3" stroke-linejoin="round" font-weight="normal">Light Blue Trail</text>
<text x="489.4" y="786.7" font-size="12.30" text-anchor="start" fill="#000" stroke="#000" stroke-width="0.25" font-weight="normal">Light Blue Trail</text>
<text x="489.4" y="804.1" font-size="12.30" text-anchor="start" fill="#fff" stroke="#fff" stroke-width="3" stroke-linejoin="round" font-weight="normal">Marsh</text>
<text x="489.4" y="804.1" font-size="12.30" text-anchor="start" fill="#000" stroke="#000" stroke-width="0.25" font-weight="normal">Marsh</text>
<text x="489.4" y="821.0" font-size="12.30" text-anchor="start" fill="#fff" stroke="#fff" stroke-width="3" stroke-linejoin="round" font-weight="normal">Water</text>
<text x="489.4" y="821.0" font-size="12.30" text-anchor="start" fill="#000" stroke="#000" stroke-width="0.25" font-weight="normal">Water</text>
<text x="489.4" y="837.0" font-size="12.30" text-anchor="start" fill="#fff" stroke="#fff" stroke-width="3" stroke-linejoin="round" font-weight="normal">Bridge</text>
<text x="489.4" y="837.0" font-size="12.30" text-anchor="start" fill="#000" stroke="#000" stroke-width="0.25" font-weight="normal">Bridge</text>
<text x="51.2" y="751.8" font-size="15.50" text-anchor="middle" fill="#fff" stroke="#fff" stroke-width="3" stroke-linejoin="round" font-weight="normal">N</text>
<text x="51.2" y="751.8" font-size="15.50" text-anchor="middle" fill="#000" stroke="#000" stroke-width="0.25" font-weight="normal">N</text>
<text x="78.8" y="830.5" font-size="15.50" text-anchor="start" fill="#fff" stroke="#fff" stroke-width="3" stroke-linejoin="round" font-weight="bold">0.25 km</text>
<text x="78.8" y="830.5" font-size="15.50" text-anchor="start" fill="#000" stroke="#000" stroke-width="0.25" font-weight="bold">0.25 km</text>
</svg></body></html>
